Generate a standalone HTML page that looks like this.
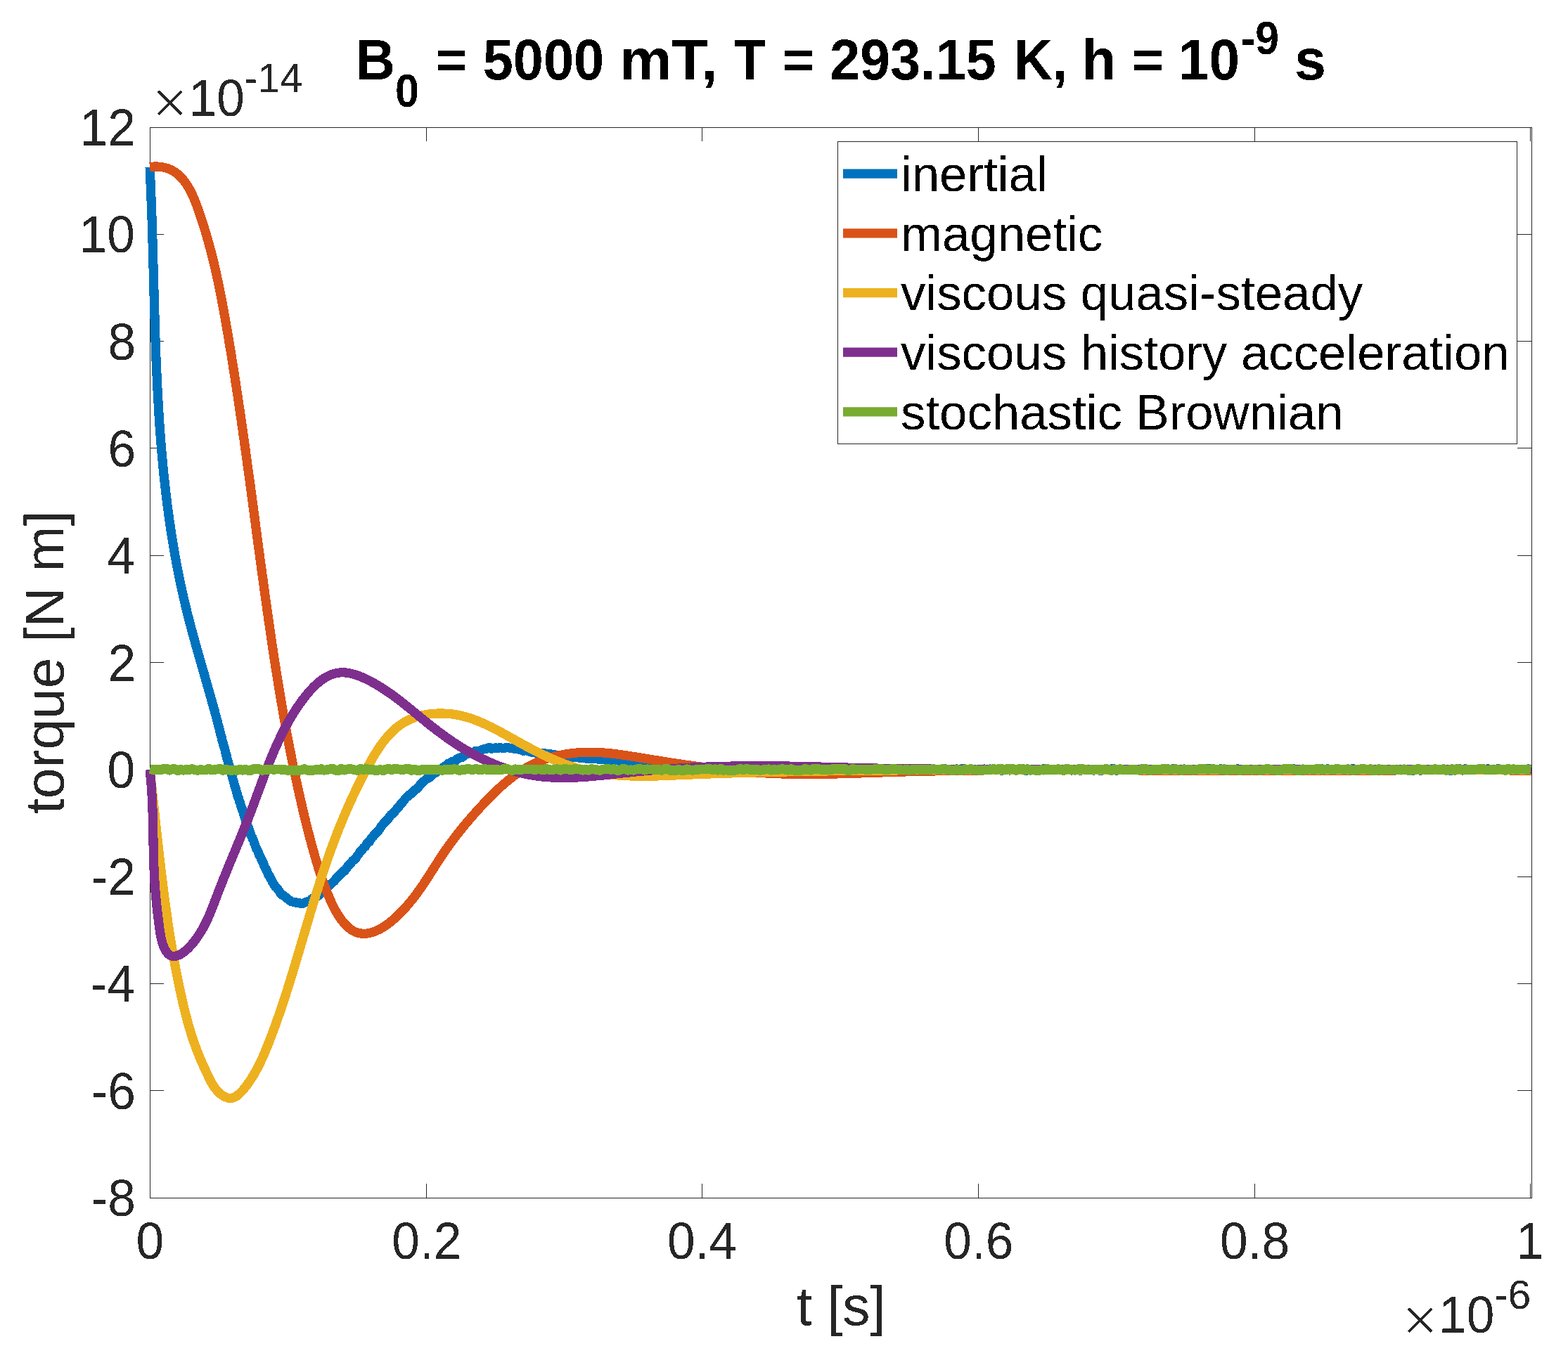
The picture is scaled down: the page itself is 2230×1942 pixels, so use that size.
<!DOCTYPE html><html><head><meta charset="utf-8"><title>torque plot</title><style>html,body{margin:0;padding:0;background:#fff;overflow:hidden}svg{display:block}text{font-family:"Liberation Sans",Arial,Helvetica,sans-serif}</style></head><body>
<svg width="2230" height="1942" viewBox="0 0 2230 1942">
<rect width="2230" height="1942" fill="#fff"/>
<defs><filter id="crisp" filterUnits="userSpaceOnUse" x="0" y="0" width="2230" height="1942" color-interpolation-filters="sRGB"><feComponentTransfer><feFuncA type="discrete" tableValues="0 1"/></feComponentTransfer></filter></defs>
<g stroke="#262626" stroke-width="1" fill="none" shape-rendering="crispEdges">
<path d="M213.5 181.5 H2178.5 V1704.5 H213.5 Z"/>
<path d="M213.5 1704 V1684 M213.5 181 V201"/>
<path d="M606.5 1704 V1684 M606.5 181 V201"/>
<path d="M998.5 1704 V1684 M998.5 181 V201"/>
<path d="M1391.5 1704 V1684 M1391.5 181 V201"/>
<path d="M1784.5 1704 V1684 M1784.5 181 V201"/>
<path d="M2176.5 1704 V1684 M2176.5 181 V201"/>
<path d="M213 181.5 H233 M2178 181.5 H2158"/>
<path d="M213 333.5 H233 M2178 333.5 H2158"/>
<path d="M213 485.5 H233 M2178 485.5 H2158"/>
<path d="M213 637.5 H233 M2178 637.5 H2158"/>
<path d="M213 790.5 H233 M2178 790.5 H2158"/>
<path d="M213 942.5 H233 M2178 942.5 H2158"/>
<path d="M213 1094.5 H233 M2178 1094.5 H2158"/>
<path d="M213 1247.5 H233 M2178 1247.5 H2158"/>
<path d="M213 1399.5 H233 M2178 1399.5 H2158"/>
<path d="M213 1551.5 H233 M2178 1551.5 H2158"/>
<path d="M213 1704.5 H233 M2178 1704.5 H2158"/>
</g>
<path d="M213.0 237.5 L213.2 240.5 L213.3 243.5 L213.5 246.5 L213.6 249.5 L213.7 252.5 L213.9 255.5 L214.0 258.4 L214.1 261.4 L214.3 264.4 L214.4 267.4 L214.5 270.4 L214.6 273.4 L214.8 276.4 L214.9 279.4 L215.0 282.4 L215.1 285.4 L215.2 288.4 L215.3 291.4 L215.4 294.4 L215.5 297.4 L215.6 300.4 L215.8 303.4 L215.9 306.4 L216.0 309.4 L216.1 312.4 L216.2 315.4 L216.3 318.4 L216.3 321.4 L216.4 324.4 L216.5 327.4 L216.6 330.4 L216.7 333.4 L216.8 336.4 L216.9 339.4 L217.0 342.4 L217.1 345.4 L217.2 348.4 L217.2 351.4 L217.3 354.4 L217.4 357.4 L217.5 360.4 L217.6 363.4 L217.7 366.4 L217.7 369.4 L217.8 372.4 L217.9 375.4 L218.0 378.4 L218.1 381.4 L218.1 384.4 L218.2 387.4 L218.3 390.4 L218.4 393.4 L218.5 396.5 L218.6 399.5 L218.6 402.5 L218.7 405.5 L218.8 408.5 L218.9 411.5 L219.0 414.5 L219.0 417.5 L219.1 420.5 L219.2 423.5 L219.3 426.5 L219.4 429.5 L219.5 432.5 L219.5 435.5 L219.6 438.5 L219.7 441.5 L219.8 444.5 L219.9 447.5 L220.0 450.5 L220.1 453.6 L220.2 456.6 L220.2 459.6 L220.3 462.6 L220.4 465.6 L220.5 468.6 L220.6 471.6 L220.7 474.6 L220.8 477.6 L220.9 480.6 L221.0 483.6 L221.1 486.6 L221.2 489.6 L221.3 492.6 L221.5 495.6 L221.6 498.6 L221.7 501.6 L221.8 504.6 L221.9 507.6 L222.0 510.6 L222.1 513.6 L222.3 516.6 L222.4 519.6 L222.5 522.6 L222.7 525.7 L222.8 528.7 L222.9 531.7 L223.1 534.7 L223.2 537.7 L223.3 540.7 L223.5 543.7 L223.6 546.7 L223.8 549.7 L223.9 552.7 L224.1 555.7 L224.2 558.7 L224.4 561.7 L224.5 564.7 L224.7 567.7 L224.9 570.7 L225.1 573.7 L225.2 576.7 L225.4 579.7 L225.6 582.7 L225.8 585.7 L226.0 588.7 L226.1 591.6 L226.3 594.6 L226.5 597.6 L226.7 600.6 L226.9 603.6 L227.1 606.6 L227.4 609.6 L227.6 612.6 L227.8 615.6 L228.0 618.6 L228.2 621.6 L228.5 624.6 L228.7 627.6 L228.9 630.6 L229.2 633.6 L229.4 636.6 L229.7 639.5 L229.9 642.5 L230.2 645.5 L230.5 648.5 L230.7 651.5 L231.0 654.5 L231.3 657.5 L231.6 660.5 L231.8 663.5 L232.1 666.4 L232.4 669.4 L232.7 672.4 L233.0 675.4 L233.3 678.4 L233.6 681.4 L234.0 684.4 L234.3 687.3 L234.6 690.3 L235.0 693.3 L235.3 696.3 L235.6 699.3 L236.0 702.2 L236.3 705.2 L236.7 708.2 L237.1 711.2 L237.4 714.2 L237.8 717.1 L238.2 720.1 L238.6 723.1 L239.0 726.1 L239.4 729.0 L239.8 732.0 L240.2 735.0 L240.6 738.0 L241.0 740.9 L241.4 743.9 L241.9 746.9 L242.3 749.8 L242.8 752.8 L243.2 755.8 L243.7 758.7 L244.1 761.7 L244.6 764.7 L245.1 767.6 L245.6 770.6 L246.1 773.6 L246.5 776.5 L247.1 779.5 L247.6 782.4 L248.1 785.4 L248.6 788.4 L249.1 791.3 L249.7 794.3 L250.2 797.2 L250.7 800.2 L251.3 803.1 L251.9 806.1 L252.4 809.0 L253.0 812.0 L253.6 814.9 L254.2 817.9 L254.8 820.8 L255.4 823.8 L256.0 826.7 L256.6 829.7 L257.2 832.6 L257.9 835.5 L258.5 838.5 L259.1 841.4 L259.8 844.3 L260.5 847.3 L261.1 850.2 L261.8 853.1 L262.5 856.1 L263.2 859.0 L263.9 861.9 L264.6 864.8 L265.3 867.8 L266.0 870.7 L266.7 873.6 L267.5 876.5 L268.2 879.4 L269.0 882.3 L269.7 885.3 L270.5 888.2 L271.3 891.1 L272.0 894.0 L272.8 896.9 L273.6 899.8 L274.4 902.7 L275.2 905.6 L276.0 908.5 L276.8 911.4 L277.6 914.3 L278.4 917.2 L279.2 920.1 L280.0 923.0 L280.8 925.9 L281.7 928.8 L282.5 931.7 L283.3 934.6 L284.1 937.5 L285.0 940.4 L285.8 943.3 L286.6 946.2 L287.5 949.1 L288.3 951.9 L289.1 954.8 L290.0 957.7 L290.8 960.6 L291.6 963.5 L292.4 966.4 L293.3 969.3 L294.1 972.2 L294.9 975.1 L295.7 978.0 L296.6 980.8 L297.4 983.7 L298.2 986.6 L299.0 989.5 L299.8 992.4 L300.6 994.9 L301.4 997.5 L302.2 1001.4 L303.0 1003.1 L303.8 1006.9 L304.6 1009.5 L305.4 1011.8 L306.1 1015.5 L306.9 1017.5 L307.7 1021.2 L308.5 1023.3 L309.2 1026.3 L310.0 1029.8 L310.8 1033.5 L311.5 1035.0 L312.3 1038.1 L313.1 1041.8 L313.8 1045.3 L314.6 1047.5 L315.4 1050.0 L316.1 1054.1 L316.9 1055.1 L317.6 1059.6 L318.4 1061.4 L319.2 1064.0 L319.9 1066.8 L320.7 1070.1 L321.5 1074.0 L322.3 1075.6 L323.0 1079.3 L323.8 1082.3 L324.6 1084.6 L325.4 1087.9 L326.2 1089.8 L327.0 1092.7 L327.8 1095.8 L328.6 1099.7 L329.4 1102.0 L330.2 1104.7 L331.0 1108.1 L331.9 1110.7 L332.7 1113.3 L333.5 1117.2 L334.4 1119.9 L335.2 1121.8 L336.1 1125.4 L336.9 1128.1 L337.8 1131.7 L338.7 1134.3 L339.6 1136.3 L340.5 1140.5 L341.4 1141.7 L342.3 1145.1 L343.2 1148.7 L344.2 1150.3 L345.1 1153.9 L346.1 1155.8 L347.0 1159.9 L348.0 1163.0 L349.0 1165.4 L350.0 1168.9 L351.0 1170.6 L352.0 1174.2 L353.0 1176.9 L354.1 1179.7 L355.1 1182.3 L356.2 1185.9 L357.3 1189.0 L358.4 1190.9 L359.5 1194.1 L360.6 1195.7 L361.7 1199.8 L362.9 1202.6 L364.0 1206.1 L365.2 1208.6 L366.4 1210.3 L367.6 1213.3 L368.8 1216.7 L370.1 1218.3 L371.3 1221.9 L372.6 1224.2 L373.9 1226.9 L375.2 1229.6 L376.5 1233.8 L377.9 1235.3 L379.2 1238.4 L380.6 1241.5 L382.0 1245.2 L383.5 1246.4 L384.9 1249.8 L386.5 1252.7 L388.1 1256.0 L389.7 1258.5 L391.4 1261.2 L393.1 1262.5 L395.0 1265.2 L396.9 1267.5 L398.9 1270.8 L400.9 1273.2 L403.1 1273.7 L405.3 1275.7 L407.6 1277.7 L410.0 1279.4 L412.4 1281.4 L414.9 1282.9 L417.5 1283.2 L420.0 1283.5 L422.6 1284.8 L425.2 1284.9 L427.9 1285.1 L430.6 1285.5 L433.2 1284.3 L435.9 1283.1 L438.6 1282.2 L441.3 1281.1 L443.9 1278.4 L446.6 1278.5 L449.2 1276.5 L451.8 1274.9 L454.4 1272.8 L456.9 1270.0 L459.4 1267.9 L461.9 1265.3 L464.3 1264.3 L466.7 1261.0 L469.0 1258.9 L471.3 1257.1 L473.5 1254.9 L475.7 1253.1 L477.8 1250.4 L480.0 1248.1 L482.1 1246.2 L484.2 1244.0 L486.2 1242.3 L488.2 1239.4 L490.2 1238.9 L492.2 1236.2 L494.2 1233.0 L496.2 1231.0 L498.1 1228.9 L500.1 1226.7 L502.1 1224.0 L504.0 1223.1 L505.9 1221.1 L507.9 1217.8 L509.8 1215.5 L511.7 1212.4 L513.7 1210.1 L515.6 1208.3 L517.5 1205.8 L519.4 1204.6 L521.3 1200.9 L523.2 1198.3 L525.2 1197.8 L527.1 1194.6 L529.0 1191.5 L530.9 1189.9 L532.8 1186.6 L534.8 1185.2 L536.7 1183.8 L538.6 1181.2 L540.5 1178.5 L542.5 1175.3 L544.4 1173.2 L546.3 1170.5 L548.3 1169.4 L550.2 1166.6 L552.2 1164.8 L554.2 1161.6 L556.1 1159.1 L558.1 1158.0 L560.1 1156.1 L562.1 1153.5 L564.1 1151.2 L566.1 1149.0 L568.1 1146.6 L570.2 1143.4 L572.2 1141.7 L574.3 1139.2 L576.3 1136.4 L578.4 1134.2 L580.5 1132.6 L582.6 1130.4 L584.7 1129.2 L586.8 1127.6 L589.0 1124.6 L591.1 1123.5 L593.3 1121.6 L595.5 1119.5 L597.7 1116.3 L599.9 1114.1 L602.1 1112.1 L604.4 1110.2 L606.6 1108.3 L608.9 1107.2 L611.2 1106.0 L613.5 1104.0 L615.9 1101.5 L618.2 1100.1 L620.6 1098.6 L623.0 1095.5 L625.4 1095.0 L627.9 1093.8 L630.3 1091.9 L632.8 1090.3 L635.3 1088.2 L637.9 1086.1 L640.4 1085.8 L643.0 1083.4 L645.6 1083.0 L648.2 1081.9 L650.9 1079.4 L653.6 1078.1 L656.3 1077.9 L659.0 1076.2 L661.7 1073.9 L664.5 1072.7 L667.3 1071.6 L670.2 1072.1 L673.0 1070.9 L675.9 1068.6 L678.8 1069.1 L681.7 1068.6 L684.6 1067.2 L687.5 1065.9 L690.4 1065.7 L693.4 1064.3 L696.4 1063.6 L699.3 1065.2 L702.3 1064.2 L705.3 1063.8 L708.3 1064.5 L711.3 1063.5 L714.3 1064.4 L717.3 1064.5 L720.3 1063.5 L723.4 1063.9 L726.4 1064.3 L729.4 1064.6 L732.4 1065.7 L735.4 1065.6 L738.4 1066.4 L741.4 1066.3 L744.4 1068.3 L747.4 1067.7 L750.4 1068.4 L753.4 1069.2 L756.3 1070.4 L759.3 1069.9 L762.3 1071.4 L765.3 1071.0 L768.2 1071.6 L771.2 1072.1 L774.2 1071.5 L777.2 1072.8 L780.1 1072.7 L783.1 1072.8 L786.1 1074.8 L789.0 1073.9 L792.0 1074.9 L795.0 1075.7 L798.0 1075.7 L801.0 1075.6 L804.0 1076.3 L806.9 1076.6 L809.9 1077.4 L812.9 1076.3 L815.9 1077.4 L818.9 1077.1 L821.9 1077.4 L824.9 1078.6 L827.9 1078.3 L830.8 1078.6 L833.8 1079.2 L836.8 1079.7 L839.8 1079.0 L842.8 1079.5 L845.8 1079.5 L848.8 1079.7 L851.8 1080.2 L854.8 1079.9 L857.8 1080.3 L860.8 1080.4 L863.8 1081.5 L866.8 1081.2 L869.7 1081.8 L872.7 1082.1 L875.7 1080.9 L878.7 1081.8 L881.7 1082.8 L884.7 1082.8 L887.7 1081.6 L890.7 1081.9 L893.7 1082.8 L896.7 1082.3 L899.7 1082.9 L902.6 1082.9 L905.6 1084.4 L908.6 1084.9 L911.6 1085.5 L914.6 1084.3 L917.6 1085.8 L920.6 1086.0 L923.5 1085.3 L926.5 1087.1 L929.5 1087.6 L932.5 1086.5 L935.5 1088.3 L938.5 1087.5 L941.4 1088.1 L944.4 1089.4 L947.4 1089.5 L950.4 1088.5 L953.4 1089.4 L956.4 1089.9 L959.3 1089.9 L962.3 1090.0 L965.3 1090.6 L968.3 1091.7 L971.3 1090.6 L974.3 1092.0 L977.2 1092.1 L980.2 1091.6 L983.2 1092.6 L986.2 1093.5 L989.2 1093.5 L992.2 1092.9 L995.1 1095.1 L998.1 1095.0 L1001.1 1095.6 L1004.1 1094.1 L1007.1 1094.7 L1010.1 1094.5 L1013.1 1096.2 L1016.0 1095.4 L1019.0 1095.3 L1022.0 1096.1 L1025.0 1097.2 L1028.0 1097.2 L1031.0 1096.3 L1034.0 1096.2 L1037.0 1097.8 L1040.0 1097.2 L1043.0 1097.6 L1046.0 1096.4 L1048.9 1096.4 L1051.9 1097.7 L1054.9 1097.2 L1057.9 1096.5 L1060.9 1098.2 L1063.9 1097.6 L1066.9 1097.8 L1069.9 1096.3 L1072.9 1097.7 L1075.9 1096.0 L1078.9 1097.5 L1081.9 1096.5 L1085.0 1096.0 L1088.0 1096.2 L1091.0 1096.7 L1094.0 1095.1 L1097.0 1094.6 L1100.0 1095.0 L1104.0 1094.9 L1108.0 1095.2 L1112.0 1096.1 L1116.0 1094.9 L1120.0 1095.0 L1124.0 1095.2 L1128.0 1094.2 L1132.0 1095.0 L1136.0 1095.3 L1140.0 1095.8 L1144.0 1093.9 L1148.0 1094.5 L1152.0 1093.9 L1156.0 1095.8 L1160.0 1095.5 L1164.0 1093.8 L1168.0 1096.3 L1172.0 1096.2 L1176.0 1095.4 L1180.0 1095.3 L1184.0 1094.1 L1188.0 1093.7 L1192.0 1095.1 L1196.0 1093.9 L1200.0 1094.2 L1204.0 1094.3 L1208.0 1093.8 L1212.0 1094.9 L1216.0 1094.8 L1220.0 1095.9 L1224.0 1095.0 L1228.0 1095.4 L1232.0 1095.0 L1236.0 1095.4 L1240.0 1094.9 L1244.0 1094.4 L1248.0 1096.3 L1252.0 1096.3 L1256.0 1095.9 L1260.0 1095.5 L1264.0 1094.5 L1268.0 1094.3 L1272.0 1094.5 L1276.0 1093.9 L1280.0 1095.7 L1284.0 1094.7 L1288.0 1095.9 L1292.0 1094.7 L1296.0 1096.2 L1300.0 1095.9 L1304.0 1093.7 L1308.0 1094.2 L1312.0 1096.1 L1316.0 1094.9 L1320.0 1096.2 L1324.0 1094.7 L1328.0 1093.9 L1332.0 1095.3 L1336.0 1095.7 L1340.0 1094.4 L1344.0 1093.9 L1348.0 1094.6 L1352.0 1096.2 L1356.0 1095.7 L1360.0 1094.0 L1364.0 1094.3 L1368.0 1094.0 L1372.0 1093.9 L1376.0 1095.8 L1380.0 1094.2 L1384.0 1095.2 L1388.0 1094.9 L1392.0 1094.2 L1396.0 1095.6 L1400.0 1094.0 L1404.0 1095.4 L1408.0 1094.0 L1412.0 1094.8 L1416.0 1094.3 L1420.0 1094.4 L1424.0 1096.2 L1428.0 1095.8 L1432.0 1094.5 L1436.0 1096.0 L1440.0 1094.2 L1444.0 1094.7 L1448.0 1095.9 L1452.0 1095.4 L1456.0 1094.0 L1460.0 1096.3 L1464.0 1094.3 L1468.0 1094.4 L1472.0 1095.7 L1476.0 1094.6 L1480.0 1094.5 L1484.0 1093.9 L1488.0 1093.9 L1492.0 1095.2 L1496.0 1094.3 L1500.0 1095.3 L1504.0 1094.7 L1508.0 1094.9 L1512.0 1096.2 L1516.0 1095.0 L1520.0 1095.2 L1524.0 1096.0 L1528.0 1094.2 L1532.0 1094.1 L1536.0 1096.1 L1540.0 1095.8 L1544.0 1094.3 L1548.0 1094.2 L1552.0 1095.6 L1556.0 1096.1 L1560.0 1094.2 L1564.0 1096.2 L1568.0 1096.0 L1572.0 1095.3 L1576.0 1094.8 L1580.0 1094.0 L1584.0 1093.8 L1588.0 1096.2 L1592.0 1094.3 L1596.0 1095.5 L1600.0 1094.4 L1604.0 1095.8 L1608.0 1095.3 L1612.0 1094.5 L1616.0 1094.2 L1620.0 1095.6 L1624.0 1093.9 L1628.0 1094.3 L1632.0 1095.2 L1636.0 1095.9 L1640.0 1095.3 L1644.0 1094.4 L1648.0 1096.1 L1652.0 1094.2 L1656.0 1093.7 L1660.0 1094.4 L1664.0 1094.9 L1668.0 1093.9 L1672.0 1094.2 L1676.0 1094.7 L1680.0 1095.2 L1684.0 1094.0 L1688.0 1094.6 L1692.0 1096.0 L1696.0 1096.2 L1700.0 1095.4 L1704.0 1095.5 L1708.0 1095.2 L1712.0 1094.1 L1716.0 1093.8 L1720.0 1093.7 L1724.0 1096.1 L1728.0 1095.5 L1732.0 1096.2 L1736.0 1093.8 L1740.0 1095.4 L1744.0 1095.0 L1748.0 1095.6 L1752.0 1094.5 L1756.0 1096.3 L1760.0 1093.9 L1764.0 1095.1 L1768.0 1095.6 L1772.0 1096.0 L1776.0 1095.6 L1780.0 1095.5 L1784.0 1095.8 L1788.0 1096.1 L1792.0 1094.6 L1796.0 1095.5 L1800.0 1096.0 L1804.0 1096.0 L1808.0 1094.8 L1812.0 1095.8 L1816.0 1095.9 L1820.0 1095.2 L1824.0 1095.3 L1828.0 1094.7 L1832.0 1095.2 L1836.0 1095.3 L1840.0 1093.9 L1844.0 1095.4 L1848.0 1096.3 L1852.0 1096.0 L1856.0 1095.6 L1860.0 1094.7 L1864.0 1095.6 L1868.0 1095.2 L1872.0 1094.8 L1876.0 1095.9 L1880.0 1093.9 L1884.0 1095.7 L1888.0 1093.8 L1892.0 1095.3 L1896.0 1095.0 L1900.0 1094.3 L1904.0 1095.5 L1908.0 1095.0 L1912.0 1095.3 L1916.0 1096.1 L1920.0 1094.4 L1924.0 1093.7 L1928.0 1094.5 L1932.0 1095.5 L1936.0 1094.2 L1940.0 1094.1 L1944.0 1096.1 L1948.0 1095.4 L1952.0 1094.8 L1956.0 1096.0 L1960.0 1094.6 L1964.0 1095.4 L1968.0 1094.2 L1972.0 1094.8 L1976.0 1095.8 L1980.0 1096.1 L1984.0 1096.0 L1988.0 1094.7 L1992.0 1095.2 L1996.0 1094.5 L2000.0 1094.1 L2004.0 1095.0 L2008.0 1095.9 L2012.0 1095.9 L2016.0 1095.5 L2020.0 1096.2 L2024.0 1094.4 L2028.0 1094.1 L2032.0 1094.9 L2036.0 1094.4 L2040.0 1094.3 L2044.0 1094.8 L2048.0 1095.3 L2052.0 1095.0 L2056.0 1094.5 L2060.0 1095.9 L2064.0 1096.3 L2068.0 1094.9 L2072.0 1093.9 L2076.0 1093.8 L2080.0 1096.0 L2084.0 1093.8 L2088.0 1095.5 L2092.0 1095.2 L2096.0 1094.5 L2100.0 1095.8 L2104.0 1093.7 L2108.0 1094.1 L2112.0 1094.9 L2116.0 1093.8 L2120.0 1095.9 L2124.0 1094.3 L2128.0 1094.1 L2132.0 1093.8 L2136.0 1095.3 L2140.0 1094.9 L2144.0 1095.3 L2148.0 1095.4 L2152.0 1095.8 L2156.0 1096.2 L2160.0 1095.5 L2164.0 1094.2 L2168.0 1094.9 L2172.0 1094.2 L2176.0 1093.7" fill="none" stroke="#0072BD" stroke-width="13.2" stroke-linejoin="round" shape-rendering="crispEdges"/>
<path d="M213.0 237.5 L214.8 237.3 L216.6 237.2 L218.3 237.1 L220.0 237.0 L221.7 237.0 L223.4 237.0 L225.0 237.1 L226.6 237.2 L228.1 237.4 L229.7 237.6 L231.2 237.8 L232.6 238.1 L234.1 238.5 L235.5 238.8 L236.9 239.2 L238.2 239.7 L239.6 240.1 L240.9 240.7 L242.1 241.2 L243.4 241.8 L244.6 242.4 L245.8 243.1 L247.0 243.7 L248.1 244.5 L249.3 245.2 L250.4 246.0 L251.5 246.8 L252.5 247.6 L253.6 248.5 L254.6 249.4 L255.6 250.3 L256.5 251.3 L257.5 252.3 L258.4 253.3 L259.3 254.3 L260.2 255.3 L261.1 256.4 L262.0 257.5 L262.8 258.6 L263.7 259.8 L264.5 260.9 L265.3 262.1 L266.0 263.3 L266.8 264.5 L267.5 265.7 L268.3 267.0 L269.0 268.3 L269.7 269.5 L270.4 270.8 L271.1 272.2 L271.7 273.5 L272.4 274.8 L273.0 276.2 L273.7 277.5 L274.3 278.9 L274.9 280.3 L275.5 281.7 L276.1 283.1 L276.7 284.5 L277.2 285.9 L277.8 287.3 L278.4 288.8 L278.9 290.2 L279.5 291.6 L280.0 293.1 L280.5 294.5 L281.1 296.0 L281.6 297.4 L282.1 298.9 L282.6 300.3 L283.1 301.8 L283.6 303.3 L284.1 304.7 L284.6 306.2 L285.1 307.6 L285.6 309.1 L286.1 310.5 L286.6 312.0 L287.1 313.4 L287.5 314.9 L288.0 316.4 L288.5 317.8 L288.9 319.3 L289.4 320.7 L289.9 322.2 L290.3 323.6 L290.8 325.1 L291.2 326.6 L291.7 328.0 L292.1 329.5 L292.5 330.9 L293.0 332.4 L293.4 333.8 L293.8 335.3 L294.3 336.8 L294.7 338.2 L295.1 339.7 L295.5 341.1 L295.9 342.6 L296.3 344.1 L296.7 345.5 L297.1 347.0 L297.5 348.4 L297.9 349.9 L298.3 351.4 L298.7 352.8 L299.1 354.3 L299.5 355.8 L299.9 357.2 L300.3 358.7 L300.6 360.1 L301.0 361.6 L301.4 363.1 L301.7 364.5 L302.1 366.0 L302.5 367.5 L302.8 368.9 L303.2 370.4 L303.5 371.9 L303.9 373.3 L304.3 374.8 L304.6 376.2 L304.9 377.7 L305.3 379.2 L305.6 380.6 L306.0 382.1 L306.3 383.6 L306.6 385.0 L307.0 386.5 L307.3 388.0 L307.6 389.4 L308.0 390.9 L308.3 392.4 L308.6 393.8 L308.9 395.3 L309.2 396.8 L309.6 398.2 L309.9 399.7 L310.2 401.2 L310.5 402.6 L310.8 404.1 L311.1 405.6 L311.4 407.0 L311.7 408.5 L312.0 410.0 L312.3 411.5 L312.6 412.9 L312.9 414.4 L313.2 415.9 L313.5 417.3 L313.8 418.8 L314.1 420.3 L314.3 421.7 L314.6 423.2 L314.9 424.7 L315.2 426.2 L315.5 427.6 L315.8 429.1 L316.0 430.6 L316.3 432.0 L316.6 433.5 L316.9 435.0 L317.1 436.5 L317.4 437.9 L317.7 439.4 L318.0 440.9 L318.2 442.3 L318.5 443.8 L318.8 445.3 L319.0 446.8 L319.3 448.2 L319.6 449.7 L319.8 451.2 L320.1 452.7 L320.3 454.1 L320.6 455.6 L320.9 457.1 L321.1 458.6 L321.4 460.0 L321.6 461.5 L321.9 463.0 L322.1 464.5 L322.4 465.9 L322.7 467.4 L322.9 468.9 L323.2 470.4 L323.4 471.8 L323.7 473.3 L323.9 474.8 L324.2 476.3 L324.4 477.7 L324.7 479.2 L324.9 480.7 L325.2 482.2 L325.4 483.6 L325.7 485.1 L325.9 486.6 L326.1 488.1 L326.4 489.6 L326.6 491.0 L326.9 492.5 L327.1 494.0 L327.4 495.5 L327.6 496.9 L327.9 498.4 L328.1 499.9 L328.3 501.4 L328.6 502.9 L328.8 504.3 L329.1 505.8 L329.3 507.3 L329.5 508.8 L329.8 510.3 L330.0 511.7 L330.3 513.2 L330.5 514.7 L330.7 516.2 L331.0 517.6 L331.2 519.1 L331.4 520.6 L331.7 522.1 L331.9 523.6 L332.1 525.1 L332.4 526.5 L332.6 528.0 L332.8 529.5 L333.1 531.0 L333.3 532.5 L333.5 533.9 L333.8 535.4 L334.0 536.9 L334.2 538.4 L334.4 539.9 L334.7 541.3 L334.9 542.8 L335.1 544.3 L335.4 545.8 L335.6 547.3 L335.8 548.8 L336.0 550.2 L336.3 551.7 L336.5 553.2 L336.7 554.7 L336.9 556.2 L337.2 557.6 L337.4 559.1 L337.6 560.6 L337.8 562.1 L338.1 563.6 L338.3 565.1 L338.5 566.5 L338.7 568.0 L338.9 569.5 L339.2 571.0 L339.4 572.5 L339.6 574.0 L339.8 575.4 L340.0 576.9 L340.3 578.4 L340.5 579.9 L340.7 581.4 L340.9 582.9 L341.1 584.4 L341.3 585.8 L341.6 587.3 L341.8 588.8 L342.0 590.3 L342.2 591.8 L342.4 593.3 L342.6 594.7 L342.9 596.2 L343.1 597.7 L343.3 599.2 L343.5 600.7 L343.7 602.2 L343.9 603.7 L344.1 605.1 L344.3 606.6 L344.6 608.1 L344.8 609.6 L345.0 611.1 L345.2 612.6 L345.4 614.1 L345.6 615.5 L345.8 617.0 L346.0 618.5 L346.2 620.0 L346.5 621.5 L346.7 623.0 L346.9 624.5 L347.1 625.9 L347.3 627.4 L347.5 628.9 L347.7 630.4 L347.9 631.9 L348.1 633.4 L348.3 634.9 L348.5 636.3 L348.7 637.8 L349.0 639.3 L349.2 640.8 L349.4 642.3 L349.6 643.8 L349.8 645.3 L350.0 646.8 L350.2 648.2 L350.4 649.7 L350.6 651.2 L350.8 652.7 L351.0 654.2 L351.2 655.7 L351.4 657.2 L351.6 658.7 L351.8 660.1 L352.0 661.6 L352.2 663.1 L352.4 664.6 L352.6 666.1 L352.8 667.6 L353.0 669.1 L353.3 670.6 L353.5 672.0 L353.7 673.5 L353.9 675.0 L354.1 676.5 L354.3 678.0 L354.5 679.5 L354.7 681.0 L354.9 682.5 L355.1 683.9 L355.3 685.4 L355.5 686.9 L355.7 688.4 L355.9 689.9 L356.1 691.4 L356.3 692.9 L356.5 694.4 L356.7 695.9 L356.9 697.3 L357.1 698.8 L357.3 700.3 L357.5 701.8 L357.7 703.3 L357.9 704.8 L358.1 706.3 L358.3 707.8 L358.5 709.2 L358.7 710.7 L358.9 712.2 L359.1 713.7 L359.3 715.2 L359.5 716.7 L359.7 718.2 L359.9 719.7 L360.1 721.2 L360.3 722.6 L360.5 724.1 L360.7 725.6 L360.9 727.1 L361.1 728.6 L361.3 730.1 L361.5 731.6 L361.7 733.1 L361.9 734.6 L362.1 736.0 L362.3 737.5 L362.5 739.0 L362.7 740.5 L362.9 742.0 L363.1 743.5 L363.3 745.0 L363.5 746.5 L363.6 748.0 L363.8 749.4 L364.0 750.9 L364.2 752.4 L364.4 753.9 L364.6 755.4 L364.8 756.9 L365.0 758.4 L365.2 759.9 L365.4 761.3 L365.6 762.8 L365.8 764.3 L366.0 765.8 L366.2 767.3 L366.4 768.8 L366.6 770.3 L366.8 771.8 L367.0 773.3 L367.2 774.7 L367.4 776.2 L367.6 777.7 L367.8 779.2 L368.0 780.7 L368.2 782.2 L368.4 783.7 L368.6 785.2 L368.8 786.7 L369.0 788.1 L369.2 789.6 L369.4 791.1 L369.6 792.6 L369.8 794.1 L370.0 795.6 L370.2 797.1 L370.4 798.6 L370.6 800.0 L370.8 801.5 L371.0 803.0 L371.2 804.5 L371.4 806.0 L371.6 807.5 L371.8 809.0 L372.0 810.5 L372.2 811.9 L372.4 813.4 L372.6 814.9 L372.8 816.4 L373.0 817.9 L373.2 819.4 L373.5 820.9 L373.7 822.4 L373.9 823.8 L374.1 825.3 L374.3 826.8 L374.5 828.3 L374.7 829.8 L374.9 831.3 L375.1 832.8 L375.3 834.3 L375.5 835.7 L375.7 837.2 L375.9 838.7 L376.1 840.2 L376.3 841.7 L376.5 843.2 L376.7 844.7 L376.9 846.1 L377.1 847.6 L377.3 849.1 L377.5 850.6 L377.7 852.1 L378.0 853.6 L378.2 855.1 L378.4 856.5 L378.6 858.0 L378.8 859.5 L379.0 861.0 L379.2 862.5 L379.4 864.0 L379.6 865.5 L379.8 866.9 L380.0 868.4 L380.2 869.9 L380.5 871.4 L380.7 872.9 L380.9 874.4 L381.1 875.9 L381.3 877.3 L381.5 878.8 L381.7 880.3 L381.9 881.8 L382.1 883.3 L382.4 884.8 L382.6 886.3 L382.8 887.7 L383.0 889.2 L383.2 890.7 L383.4 892.2 L383.6 893.7 L383.9 895.2 L384.1 896.6 L384.3 898.1 L384.5 899.6 L384.7 901.1 L384.9 902.6 L385.2 904.1 L385.4 905.6 L385.6 907.0 L385.8 908.5 L386.0 910.0 L386.3 911.5 L386.5 913.0 L386.7 914.5 L386.9 915.9 L387.1 917.4 L387.4 918.9 L387.6 920.4 L387.8 921.9 L388.0 923.3 L388.2 924.8 L388.5 926.3 L388.7 927.8 L388.9 929.3 L389.1 930.8 L389.4 932.2 L389.6 933.7 L389.8 935.2 L390.0 936.7 L390.3 938.2 L390.5 939.7 L390.7 941.1 L391.0 942.6 L391.2 944.1 L391.4 945.6 L391.6 947.1 L391.9 948.5 L392.1 950.0 L392.3 951.5 L392.6 953.0 L392.8 954.5 L393.0 955.9 L393.3 957.4 L393.5 958.9 L393.7 960.4 L394.0 961.9 L394.2 963.3 L394.5 964.8 L394.7 966.3 L394.9 967.8 L395.2 969.3 L395.4 970.8 L395.6 972.2 L395.9 973.7 L396.1 975.2 L396.4 976.7 L396.6 978.1 L396.9 979.6 L397.1 981.1 L397.3 982.6 L397.6 984.1 L397.8 985.5 L398.1 987.0 L398.3 988.5 L398.6 990.0 L398.8 991.5 L399.1 992.9 L399.3 994.4 L399.6 995.9 L399.8 997.4 L400.1 998.8 L400.3 1000.3 L400.6 1001.8 L400.8 1003.3 L401.1 1004.8 L401.3 1006.2 L401.6 1007.7 L401.8 1009.2 L402.1 1010.7 L402.4 1012.1 L402.6 1013.6 L402.9 1015.1 L403.1 1016.6 L403.4 1018.0 L403.7 1019.5 L403.9 1021.0 L404.2 1022.5 L404.4 1024.0 L404.7 1025.4 L405.0 1026.9 L405.2 1028.4 L405.5 1029.9 L405.8 1031.3 L406.0 1032.8 L406.3 1034.3 L406.6 1035.8 L406.8 1037.2 L407.1 1038.7 L407.4 1040.2 L407.7 1041.7 L407.9 1043.1 L408.2 1044.6 L408.5 1046.1 L408.8 1047.6 L409.0 1049.0 L409.3 1050.5 L409.6 1052.0 L409.9 1053.4 L410.2 1054.9 L410.4 1056.4 L410.7 1057.9 L411.0 1059.3 L411.3 1060.8 L411.6 1062.3 L411.8 1063.8 L412.1 1065.2 L412.4 1066.7 L412.7 1068.2 L413.0 1069.6 L413.3 1071.1 L413.6 1072.6 L413.9 1074.1 L414.2 1075.5 L414.5 1077.0 L414.7 1078.5 L415.0 1079.9 L415.3 1081.4 L415.6 1082.9 L415.9 1084.4 L416.2 1085.8 L416.5 1087.3 L416.8 1088.8 L417.1 1090.2 L417.4 1091.7 L417.7 1093.2 L418.0 1094.6 L418.3 1096.1 L418.7 1097.6 L419.0 1099.1 L419.3 1100.5 L419.6 1102.0 L419.9 1103.5 L420.2 1104.9 L420.5 1106.4 L420.8 1107.9 L421.1 1109.3 L421.5 1110.8 L421.8 1112.3 L422.1 1113.7 L422.4 1115.2 L422.7 1116.7 L423.0 1118.1 L423.4 1119.6 L423.7 1121.1 L424.0 1122.5 L424.3 1124.0 L424.7 1125.5 L425.0 1126.9 L425.3 1128.4 L425.6 1129.9 L426.0 1131.3 L426.3 1132.8 L426.6 1134.3 L427.0 1135.7 L427.3 1137.2 L427.6 1138.7 L428.0 1140.1 L428.3 1141.6 L428.6 1143.1 L429.0 1144.5 L429.3 1146.0 L429.7 1147.5 L430.0 1148.9 L430.4 1150.4 L430.7 1151.9 L431.0 1153.3 L431.4 1154.8 L431.7 1156.2 L432.1 1157.7 L432.4 1159.2 L432.8 1160.6 L433.1 1162.1 L433.5 1163.6 L433.9 1165.0 L434.2 1166.5 L434.6 1167.9 L434.9 1169.4 L435.3 1170.9 L435.6 1172.3 L436.0 1173.8 L436.4 1175.3 L436.7 1176.7 L437.1 1178.2 L437.5 1179.6 L437.8 1181.1 L438.2 1182.6 L438.6 1184.0 L439.0 1185.5 L439.3 1186.9 L439.7 1188.4 L440.1 1189.8 L440.5 1191.3 L440.8 1192.8 L441.2 1194.2 L441.6 1195.7 L442.0 1197.1 L442.4 1198.6 L442.8 1200.0 L443.2 1201.5 L443.6 1202.9 L444.0 1204.4 L444.4 1205.8 L444.8 1207.3 L445.2 1208.7 L445.6 1210.1 L446.0 1211.6 L446.4 1213.0 L446.8 1214.5 L447.2 1215.9 L447.6 1217.3 L448.0 1218.8 L448.4 1220.2 L448.9 1221.6 L449.3 1223.1 L449.7 1224.5 L450.1 1225.9 L450.6 1227.3 L451.0 1228.8 L451.4 1230.2 L451.9 1231.6 L452.3 1233.0 L452.7 1234.4 L453.2 1235.8 L453.6 1237.2 L454.1 1238.7 L454.5 1240.1 L455.0 1241.5 L455.4 1242.9 L455.9 1244.3 L456.4 1245.7 L456.8 1247.1 L457.3 1248.5 L457.8 1249.9 L458.3 1251.3 L458.8 1252.7 L459.3 1254.1 L459.8 1255.5 L460.3 1256.9 L460.8 1258.3 L461.3 1259.7 L461.8 1261.2 L462.4 1262.6 L462.9 1264.0 L463.5 1265.4 L464.0 1266.8 L464.6 1268.3 L465.2 1269.7 L465.8 1271.1 L466.4 1272.6 L467.0 1274.0 L467.6 1275.5 L468.2 1276.9 L468.8 1278.4 L469.5 1279.9 L470.1 1281.3 L470.8 1282.8 L471.5 1284.3 L472.2 1285.8 L472.9 1287.2 L473.6 1288.7 L474.3 1290.2 L475.1 1291.7 L475.8 1293.1 L476.6 1294.6 L477.4 1296.1 L478.2 1297.5 L479.1 1298.9 L479.9 1300.4 L480.8 1301.8 L481.7 1303.2 L482.7 1304.6 L483.6 1306.0 L484.6 1307.4 L485.6 1308.7 L486.6 1310.0 L487.6 1311.3 L488.7 1312.6 L489.8 1313.8 L490.8 1315.0 L491.9 1316.2 L493.0 1317.3 L494.2 1318.4 L495.3 1319.4 L496.5 1320.4 L497.6 1321.3 L498.8 1322.2 L500.0 1323.0 L501.2 1323.8 L502.4 1324.4 L503.6 1325.1 L504.8 1325.6 L506.1 1326.2 L507.3 1326.6 L508.5 1327.0 L509.8 1327.3 L511.0 1327.6 L512.3 1327.9 L513.6 1328.0 L514.8 1328.2 L516.1 1328.2 L517.4 1328.3 L518.7 1328.3 L520.0 1328.2 L521.3 1328.1 L522.5 1327.9 L523.8 1327.7 L525.1 1327.5 L526.4 1327.2 L527.7 1326.8 L529.0 1326.5 L530.4 1326.1 L531.7 1325.6 L533.0 1325.1 L534.3 1324.6 L535.6 1324.0 L536.9 1323.4 L538.2 1322.8 L539.5 1322.2 L540.8 1321.5 L542.1 1320.7 L543.4 1320.0 L544.6 1319.2 L545.9 1318.4 L547.2 1317.6 L548.5 1316.7 L549.8 1315.8 L551.0 1314.9 L552.3 1314.0 L553.5 1313.0 L554.8 1312.1 L556.0 1311.1 L557.3 1310.0 L558.5 1309.0 L559.7 1308.0 L560.9 1306.9 L562.1 1305.8 L563.3 1304.7 L564.5 1303.6 L565.7 1302.5 L566.8 1301.4 L568.0 1300.3 L569.2 1299.1 L570.3 1298.0 L571.4 1296.8 L572.5 1295.7 L573.6 1294.5 L574.7 1293.3 L575.8 1292.1 L576.8 1291.0 L577.9 1289.8 L578.9 1288.6 L580.0 1287.4 L581.0 1286.2 L582.0 1285.0 L583.0 1283.8 L584.0 1282.6 L585.0 1281.4 L585.9 1280.2 L586.9 1279.0 L587.8 1277.8 L588.8 1276.6 L589.7 1275.4 L590.6 1274.2 L591.5 1272.9 L592.4 1271.7 L593.3 1270.5 L594.2 1269.3 L595.1 1268.0 L596.0 1266.8 L596.9 1265.6 L597.7 1264.3 L598.6 1263.1 L599.4 1261.9 L600.3 1260.6 L601.1 1259.4 L602.0 1258.2 L602.8 1256.9 L603.6 1255.7 L604.5 1254.4 L605.3 1253.2 L606.1 1251.9 L606.9 1250.7 L607.7 1249.5 L608.5 1248.2 L609.3 1247.0 L610.1 1245.7 L610.9 1244.5 L611.7 1243.2 L612.5 1242.0 L613.3 1240.7 L614.1 1239.5 L614.9 1238.2 L615.7 1237.0 L616.5 1235.8 L617.3 1234.5 L618.1 1233.3 L618.9 1232.0 L619.7 1230.8 L620.5 1229.5 L621.3 1228.3 L622.1 1227.1 L622.8 1225.8 L623.6 1224.6 L624.5 1223.3 L625.3 1222.1 L626.1 1220.9 L626.9 1219.6 L627.7 1218.4 L628.5 1217.2 L629.3 1216.0 L630.1 1214.7 L631.0 1213.5 L631.8 1212.3 L632.6 1211.1 L633.5 1209.9 L634.3 1208.6 L635.2 1207.4 L636.0 1206.2 L636.9 1205.0 L637.8 1203.8 L638.6 1202.6 L639.5 1201.4 L640.4 1200.2 L641.2 1199.0 L642.1 1197.8 L643.0 1196.6 L643.9 1195.4 L644.8 1194.2 L645.7 1193.0 L646.6 1191.8 L647.5 1190.6 L648.4 1189.5 L649.3 1188.3 L650.2 1187.1 L651.2 1185.9 L652.1 1184.8 L653.0 1183.6 L653.9 1182.4 L654.9 1181.2 L655.8 1180.1 L656.8 1178.9 L657.7 1177.7 L658.6 1176.6 L659.6 1175.4 L660.6 1174.3 L661.5 1173.1 L662.5 1172.0 L663.4 1170.8 L664.4 1169.6 L665.4 1168.5 L666.4 1167.4 L667.3 1166.2 L668.3 1165.1 L669.3 1163.9 L670.3 1162.8 L671.3 1161.7 L672.3 1160.5 L673.3 1159.4 L674.3 1158.3 L675.3 1157.1 L676.3 1156.0 L677.3 1154.9 L678.3 1153.8 L679.3 1152.6 L680.3 1151.5 L681.4 1150.4 L682.4 1149.3 L683.4 1148.2 L684.4 1147.1 L685.5 1146.0 L686.5 1144.9 L687.5 1143.8 L688.6 1142.7 L689.6 1141.6 L690.7 1140.5 L691.7 1139.4 L692.8 1138.3 L693.8 1137.2 L694.9 1136.1 L695.9 1135.0 L697.0 1133.9 L698.1 1132.9 L699.1 1131.8 L700.2 1130.7 L701.3 1129.6 L702.4 1128.6 L703.5 1127.5 L704.5 1126.5 L705.6 1125.4 L706.7 1124.4 L707.8 1123.4 L708.9 1122.3 L710.0 1121.3 L711.2 1120.3 L712.3 1119.3 L713.4 1118.3 L714.5 1117.3 L715.6 1116.3 L716.8 1115.3 L717.9 1114.3 L719.1 1113.3 L720.2 1112.4 L721.4 1111.4 L722.5 1110.5 L723.7 1109.5 L724.9 1108.6 L726.0 1107.7 L727.2 1106.7 L728.4 1105.8 L729.6 1104.9 L730.8 1104.0 L732.0 1103.2 L733.2 1102.3 L734.4 1101.4 L735.6 1100.6 L736.8 1099.7 L738.1 1098.9 L739.3 1098.1 L740.5 1097.3 L741.8 1096.4 L743.0 1095.7 L744.3 1094.9 L745.6 1094.1 L746.8 1093.4 L748.1 1092.6 L749.4 1091.9 L750.7 1091.1 L752.0 1090.4 L753.3 1089.7 L754.6 1089.1 L755.9 1088.4 L757.3 1087.7 L758.6 1087.1 L759.9 1086.4 L761.3 1085.8 L762.6 1085.2 L764.0 1084.6 L765.4 1084.0 L766.7 1083.5 L768.1 1082.9 L769.5 1082.4 L770.9 1081.8 L772.3 1081.3 L773.7 1080.8 L775.1 1080.3 L776.5 1079.8 L777.9 1079.4 L779.4 1078.9 L780.8 1078.5 L782.2 1078.0 L783.6 1077.6 L785.1 1077.2 L786.5 1076.8 L788.0 1076.4 L789.4 1076.1 L790.9 1075.7 L792.4 1075.3 L793.8 1075.0 L795.3 1074.7 L796.8 1074.4 L798.2 1074.1 L799.7 1073.8 L801.2 1073.5 L802.7 1073.2 L804.1 1073.0 L805.6 1072.7 L807.1 1072.5 L808.6 1072.3 L810.1 1072.1 L811.6 1071.9 L813.1 1071.7 L814.6 1071.5 L816.1 1071.4 L817.6 1071.2 L819.1 1071.1 L820.6 1070.9 L822.1 1070.8 L823.6 1070.7 L825.1 1070.6 L826.6 1070.5 L828.1 1070.4 L829.6 1070.4 L831.1 1070.3 L832.6 1070.3 L834.1 1070.2 L835.6 1070.2 L837.1 1070.2 L838.6 1070.2 L840.1 1070.2 L841.6 1070.2 L843.1 1070.2 L844.6 1070.3 L846.1 1070.3 L847.6 1070.4 L849.1 1070.4 L850.6 1070.5 L852.1 1070.6 L853.6 1070.6 L855.1 1070.7 L856.6 1070.8 L858.1 1070.9 L859.5 1071.1 L861.0 1071.2 L862.5 1071.3 L864.0 1071.5 L865.5 1071.6 L867.0 1071.7 L868.5 1071.9 L870.0 1072.1 L871.5 1072.2 L873.0 1072.4 L874.4 1072.6 L875.9 1072.8 L877.4 1073.0 L878.9 1073.1 L880.4 1073.3 L881.9 1073.5 L883.4 1073.7 L884.9 1074.0 L886.3 1074.2 L887.8 1074.4 L889.3 1074.6 L890.8 1074.8 L892.3 1075.1 L893.8 1075.3 L895.3 1075.5 L896.8 1075.8 L898.2 1076.0 L899.7 1076.2 L901.2 1076.5 L902.7 1076.7 L904.2 1076.9 L905.7 1077.2 L907.1 1077.4 L908.6 1077.7 L910.1 1077.9 L911.6 1078.2 L913.1 1078.4 L914.6 1078.7 L916.1 1078.9 L917.5 1079.2 L919.0 1079.4 L920.5 1079.6 L922.0 1079.9 L923.5 1080.1 L925.0 1080.4 L926.5 1080.6 L927.9 1080.9 L929.4 1081.1 L930.9 1081.3 L932.4 1081.6 L933.9 1081.8 L935.4 1082.0 L936.9 1082.3 L938.3 1082.5 L939.8 1082.8 L941.3 1083.0 L942.8 1083.2 L944.3 1083.5 L945.8 1083.7 L947.3 1083.9 L948.7 1084.2 L950.2 1084.4 L951.7 1084.6 L953.2 1084.8 L954.7 1085.1 L956.2 1085.3 L957.7 1085.5 L959.1 1085.8 L960.6 1086.0 L962.1 1086.2 L963.6 1086.4 L965.1 1086.6 L966.6 1086.9 L968.1 1087.1 L969.6 1087.3 L971.0 1087.5 L972.5 1087.7 L974.0 1088.0 L975.5 1088.2 L977.0 1088.4 L978.5 1088.6 L980.0 1088.8 L981.5 1089.0 L982.9 1089.2 L984.4 1089.4 L985.9 1089.6 L987.4 1089.8 L988.9 1090.0 L990.4 1090.2 L991.9 1090.4 L993.4 1090.6 L994.8 1090.8 L996.3 1091.0 L997.8 1091.2 L999.3 1091.4 L1000.8 1091.6 L1002.3 1091.8 L1003.8 1092.0 L1005.3 1092.2 L1006.8 1092.4 L1008.2 1092.6 L1009.7 1092.7 L1011.2 1092.9 L1012.7 1093.1 L1014.2 1093.3 L1015.7 1093.5 L1017.2 1093.6 L1018.7 1093.8 L1020.2 1094.0 L1021.6 1094.2 L1023.1 1094.3 L1024.6 1094.5 L1026.1 1094.7 L1027.6 1094.8 L1029.1 1095.0 L1030.6 1095.2 L1032.1 1095.3 L1033.6 1095.5 L1035.1 1095.6 L1036.5 1095.8 L1038.0 1095.9 L1039.5 1096.1 L1041.0 1096.2 L1042.5 1096.4 L1044.0 1096.5 L1045.5 1096.7 L1047.0 1096.8 L1048.5 1097.0 L1050.0 1097.1 L1051.5 1097.2 L1052.9 1097.4 L1054.4 1097.5 L1055.9 1097.6 L1057.4 1097.7 L1058.9 1097.9 L1060.4 1098.0 L1061.9 1098.1 L1063.4 1098.2 L1064.9 1098.4 L1066.4 1098.5 L1067.9 1098.6 L1069.4 1098.7 L1070.9 1098.8 L1072.3 1098.9 L1073.8 1099.0 L1075.3 1099.1 L1076.8 1099.2 L1078.3 1099.3 L1079.8 1099.4 L1081.3 1099.5 L1082.8 1099.6 L1084.3 1099.7 L1085.8 1099.8 L1087.3 1099.8 L1088.8 1099.9 L1090.3 1100.0 L1091.8 1100.1 L1093.3 1100.2 L1094.8 1100.2 L1096.2 1100.3 L1097.7 1100.4 L1099.2 1100.4 L1100.7 1100.5 L1102.2 1100.6 L1103.7 1100.6 L1105.2 1100.7 L1106.7 1100.7 L1108.2 1100.8 L1109.7 1100.8 L1111.2 1100.9 L1112.7 1100.9 L1114.2 1101.0 L1115.7 1101.0 L1117.2 1101.0 L1118.7 1101.1 L1120.2 1101.1 L1121.7 1101.1 L1123.2 1101.2 L1124.7 1101.2 L1126.2 1101.2 L1127.7 1101.2 L1129.2 1101.3 L1130.7 1101.3 L1132.2 1101.3 L1133.7 1101.3 L1135.1 1101.3 L1136.6 1101.4 L1138.1 1101.4 L1139.6 1101.4 L1141.1 1101.4 L1142.6 1101.4 L1144.1 1101.4 L1145.6 1101.4 L1147.1 1101.4 L1148.6 1101.4 L1150.1 1101.4 L1151.6 1101.4 L1153.1 1101.4 L1154.6 1101.4 L1156.1 1101.4 L1157.6 1101.4 L1159.1 1101.4 L1160.6 1101.3 L1162.1 1101.3 L1163.6 1101.3 L1165.1 1101.3 L1166.6 1101.3 L1168.1 1101.3 L1169.6 1101.2 L1171.1 1101.2 L1172.6 1101.2 L1174.1 1101.2 L1175.6 1101.2 L1177.1 1101.1 L1178.6 1101.1 L1180.1 1101.1 L1181.6 1101.1 L1183.1 1101.0 L1184.6 1101.0 L1186.1 1101.0 L1187.6 1100.9 L1189.1 1100.9 L1190.6 1100.9 L1192.1 1100.8 L1193.6 1100.8 L1195.1 1100.8 L1196.6 1100.7 L1198.1 1100.7 L1199.6 1100.6 L1201.1 1100.6 L1202.6 1100.6 L1204.1 1100.5 L1205.6 1100.5 L1207.1 1100.4 L1208.6 1100.4 L1210.1 1100.3 L1211.6 1100.3 L1213.1 1100.3 L1214.6 1100.2 L1216.1 1100.2 L1217.6 1100.1 L1219.1 1100.1 L1220.6 1100.0 L1222.1 1100.0 L1223.6 1099.9 L1225.1 1099.9 L1226.6 1099.8 L1228.1 1099.8 L1229.6 1099.7 L1231.1 1099.7 L1232.6 1099.6 L1234.1 1099.6 L1235.6 1099.5 L1237.1 1099.5 L1238.6 1099.4 L1240.1 1099.4 L1241.6 1099.3 L1243.1 1099.3 L1244.6 1099.2 L1246.1 1099.2 L1247.6 1099.1 L1249.1 1099.1 L1250.6 1099.0 L1252.1 1099.0 L1253.6 1098.9 L1255.1 1098.9 L1256.6 1098.8 L1258.1 1098.8 L1259.6 1098.7 L1261.1 1098.7 L1262.6 1098.6 L1264.1 1098.6 L1265.6 1098.5 L1267.1 1098.5 L1268.6 1098.5 L1270.1 1098.4 L1271.6 1098.4 L1273.1 1098.3 L1274.6 1098.3 L1276.1 1098.2 L1277.6 1098.2 L1279.1 1098.1 L1280.6 1098.1 L1282.1 1098.0 L1283.6 1098.0 L1285.1 1098.0 L1286.6 1097.9 L1288.1 1097.9 L1289.6 1097.8 L1291.1 1097.8 L1292.6 1097.8 L1294.1 1097.7 L1295.6 1097.7 L1297.1 1097.6 L1298.6 1097.6 L1300.1 1097.6 L1301.7 1097.5 L1303.2 1097.5 L1304.7 1097.4 L1306.2 1097.4 L1307.7 1097.4 L1309.2 1097.3 L1310.7 1097.3 L1312.2 1097.3 L1313.7 1097.2 L1315.2 1097.2 L1316.7 1097.2 L1318.2 1097.1 L1319.7 1097.1 L1321.2 1097.1 L1322.7 1097.0 L1324.2 1097.0 L1325.7 1097.0 L1327.2 1096.9 L1328.7 1096.9 L1330.2 1096.9 L1331.7 1096.8 L1333.2 1096.8 L1334.7 1096.8 L1336.2 1096.8 L1337.7 1096.7 L1339.2 1096.7 L1340.7 1096.7 L1342.2 1096.6 L1343.7 1096.6 L1345.2 1096.6 L1346.7 1096.6 L1348.2 1096.5 L1349.7 1096.5 L1351.2 1096.5 L1352.7 1096.5 L1354.2 1096.4 L1355.7 1096.4 L1357.2 1096.4 L1358.7 1096.4 L1360.2 1096.3 L1361.7 1096.3 L1363.2 1096.3 L1364.7 1096.3 L1366.2 1096.3 L1367.7 1096.2 L1369.2 1096.2 L1370.7 1096.2 L1372.2 1096.2 L1373.7 1096.2 L1375.2 1096.1 L1376.7 1096.1 L1378.2 1096.1 L1379.7 1096.1 L1381.2 1096.1 L1382.7 1096.0 L1384.2 1096.0 L1385.7 1096.0 L1387.2 1096.0 L1388.7 1096.0 L1390.2 1096.0 L1391.7 1095.9 L1393.2 1095.9 L1394.7 1095.9 L1396.2 1095.9 L1397.7 1095.9 L1399.2 1095.9 L1400.7 1095.8 L1402.2 1095.8 L1403.7 1095.8 L1405.2 1095.8 L1406.7 1095.8 L1408.2 1095.8 L1409.7 1095.8 L1411.2 1095.7 L1412.7 1095.7 L1414.2 1095.7 L1415.7 1095.7 L1417.2 1095.7 L1418.7 1095.7 L1420.2 1095.7 L1421.7 1095.7 L1423.2 1095.7 L1424.7 1095.6 L1426.2 1095.6 L1427.7 1095.6 L1429.2 1095.6 L1430.7 1095.6 L1432.2 1095.6 L1433.7 1095.6 L1435.2 1095.6 L1436.7 1095.6 L1438.2 1095.6 L1439.7 1095.6 L1441.2 1095.6 L1442.7 1095.5 L1444.2 1095.5 L1445.7 1095.5 L1447.2 1095.5 L1448.7 1095.5 L1450.2 1095.5 L1451.7 1095.5 L1453.2 1095.5 L1454.7 1095.5 L1456.2 1095.5 L1457.7 1095.5 L1459.2 1095.5 L1460.7 1095.5 L1462.2 1095.5 L1463.7 1095.5 L1465.2 1095.5 L1466.7 1095.5 L1468.2 1095.5 L1469.7 1095.5 L1471.2 1095.5 L1472.7 1095.5 L1474.2 1095.5 L1475.7 1095.4 L1477.2 1095.4 L1478.7 1095.4 L1480.2 1095.4 L1481.7 1095.4 L1483.2 1095.4 L1484.7 1095.4 L1486.2 1095.4 L1487.7 1095.4 L1489.2 1095.4 L1490.7 1095.4 L1492.2 1095.4 L1493.7 1095.4 L1495.2 1095.4 L1496.7 1095.4 L1498.2 1095.4 L1499.7 1095.4 L1501.2 1095.4 L1502.7 1095.4 L1504.2 1095.4 L1505.7 1095.4 L1507.2 1095.4 L1508.7 1095.4 L1510.2 1095.4 L1511.7 1095.4 L1513.2 1095.5 L1514.7 1095.5 L1516.2 1095.5 L1517.7 1095.5 L1519.2 1095.5 L1520.7 1095.5 L1522.2 1095.5 L1523.7 1095.5 L1525.2 1095.5 L1526.7 1095.5 L1528.2 1095.5 L1529.7 1095.5 L1531.2 1095.5 L1532.7 1095.5 L1534.2 1095.5 L1535.7 1095.5 L1537.2 1095.5 L1538.7 1095.5 L1540.2 1095.5 L1541.7 1095.5 L1543.2 1095.5 L1544.7 1095.5 L1546.2 1095.5 L1547.7 1095.5 L1549.2 1095.5 L1550.8 1095.5 L1552.3 1095.6 L1553.8 1095.6 L1555.3 1095.6 L1556.8 1095.6 L1558.3 1095.6 L1559.8 1095.6 L1561.3 1095.6 L1562.8 1095.6 L1564.3 1095.6 L1565.8 1095.6 L1567.3 1095.6 L1568.8 1095.6 L1570.3 1095.6 L1571.8 1095.6 L1573.3 1095.6 L1574.8 1095.6 L1576.3 1095.6 L1577.8 1095.7 L1579.3 1095.7 L1580.8 1095.7 L1582.3 1095.7 L1583.8 1095.7 L1585.3 1095.7 L1586.8 1095.7 L1588.3 1095.7 L1589.8 1095.7 L1591.3 1095.7 L1592.8 1095.7 L1594.3 1095.7 L1595.8 1095.7 L1597.3 1095.7 L1598.8 1095.8 L1600.3 1095.8 L1601.8 1095.8 L1603.3 1095.8 L1604.8 1095.8 L1606.3 1095.8 L1607.8 1095.8 L1609.3 1095.8 L1610.8 1095.8 L1612.3 1095.8 L1613.8 1095.8 L1615.3 1095.8 L1616.8 1095.8 L1618.3 1095.8 L1619.8 1095.9 L1621.3 1095.9 L1622.8 1095.9 L1624.3 1095.9 L1625.8 1095.9 L1627.3 1095.9 L1628.8 1095.9 L1630.3 1095.9 L1631.8 1095.9 L1633.3 1095.9 L1634.8 1095.9 L1636.3 1095.9 L1637.8 1096.0 L1639.3 1096.0 L1640.8 1096.0 L1642.3 1096.0 L1643.8 1096.0 L1645.3 1096.0 L1646.8 1096.0 L1648.3 1096.0 L1649.8 1096.0 L1651.3 1096.0 L1652.8 1096.0 L1654.3 1096.0 L1655.8 1096.0 L1657.3 1096.0 L1658.8 1096.1 L1660.3 1096.1 L1661.8 1096.1 L1663.3 1096.1 L1664.8 1096.1 L1666.3 1096.1 L1667.8 1096.1 L1669.3 1096.1 L1670.8 1096.1 L1672.3 1096.1 L1673.8 1096.1 L1675.3 1096.1 L1676.8 1096.1 L1678.3 1096.1 L1679.8 1096.2 L1681.3 1096.2 L1682.8 1096.2 L1684.3 1096.2 L1685.8 1096.2 L1687.3 1096.2 L1688.8 1096.2 L1690.3 1096.2 L1691.8 1096.2 L1693.3 1096.2 L1694.8 1096.2 L1696.3 1096.2 L1697.8 1096.2 L1699.3 1096.2 L1700.8 1096.2 L1702.3 1096.2 L1703.8 1096.3 L1705.3 1096.3 L1706.8 1096.3 L1708.3 1096.3 L1709.8 1096.3 L1711.3 1096.3 L1712.8 1096.3 L1714.3 1096.3 L1715.8 1096.3 L1717.3 1096.3 L1718.8 1096.3 L1720.3 1096.3 L1721.8 1096.3 L1723.3 1096.3 L1724.8 1096.3 L1726.3 1096.3 L1727.8 1096.3 L1729.3 1096.3 L1730.8 1096.3 L1732.3 1096.3 L1733.8 1096.3 L1735.3 1096.3 L1736.8 1096.3 L1738.3 1096.3 L1739.8 1096.3 L1741.3 1096.3 L1742.8 1096.4 L1744.3 1096.4 L1745.8 1096.4 L1747.3 1096.4 L1748.8 1096.4 L1750.3 1096.4 L1751.8 1096.4 L1753.3 1096.4 L1754.8 1096.4 L1756.3 1096.4 L1757.8 1096.4 L1759.3 1096.4 L1760.8 1096.4 L1762.3 1096.4 L1763.8 1096.4 L1765.3 1096.4 L1766.8 1096.4 L1768.3 1096.4 L1769.8 1096.4 L1771.3 1096.4 L1772.8 1096.4 L1774.3 1096.4 L1775.8 1096.4 L1777.3 1096.4 L1778.8 1096.4 L1780.3 1096.4 L1781.8 1096.4 L1783.3 1096.4 L1784.8 1096.4 L1786.3 1096.4 L1787.8 1096.4 L1789.3 1096.4 L1790.8 1096.4 L1792.3 1096.4 L1793.8 1096.4 L1795.3 1096.4 L1796.8 1096.4 L1798.3 1096.4 L1799.8 1096.4 L1801.3 1096.4 L1802.8 1096.4 L1804.3 1096.4 L1805.8 1096.4 L1807.3 1096.4 L1808.8 1096.3 L1810.3 1096.3 L1811.8 1096.3 L1813.3 1096.3 L1814.8 1096.3 L1816.3 1096.3 L1817.8 1096.3 L1819.3 1096.3 L1820.8 1096.3 L1822.3 1096.3 L1823.8 1096.3 L1825.3 1096.3 L1826.8 1096.3 L1828.3 1096.3 L1829.8 1096.3 L1831.4 1096.3 L1832.9 1096.3 L1834.4 1096.3 L1835.9 1096.3 L1837.4 1096.3 L1838.9 1096.3 L1840.4 1096.3 L1841.9 1096.3 L1843.4 1096.3 L1844.9 1096.3 L1846.4 1096.3 L1847.9 1096.3 L1849.4 1096.3 L1850.9 1096.3 L1852.4 1096.3 L1853.9 1096.3 L1855.4 1096.3 L1856.9 1096.2 L1858.4 1096.2 L1859.9 1096.2 L1861.4 1096.2 L1862.9 1096.2 L1864.4 1096.2 L1865.9 1096.2 L1867.4 1096.2 L1868.9 1096.2 L1870.4 1096.2 L1871.9 1096.2 L1873.4 1096.2 L1874.9 1096.2 L1876.4 1096.2 L1877.9 1096.2 L1879.4 1096.2 L1880.9 1096.2 L1882.4 1096.2 L1883.9 1096.2 L1885.4 1096.2 L1886.9 1096.2 L1888.4 1096.2 L1889.9 1096.2 L1891.4 1096.1 L1892.9 1096.1 L1894.4 1096.1 L1895.9 1096.1 L1897.4 1096.1 L1898.9 1096.1 L1900.4 1096.1 L1901.9 1096.1 L1903.4 1096.1 L1904.9 1096.1 L1906.4 1096.1 L1907.9 1096.1 L1909.4 1096.1 L1910.9 1096.1 L1912.4 1096.1 L1913.9 1096.1 L1915.4 1096.1 L1916.9 1096.1 L1918.4 1096.1 L1919.9 1096.1 L1921.4 1096.0 L1922.9 1096.0 L1924.4 1096.0 L1925.9 1096.0 L1927.4 1096.0 L1928.9 1096.0 L1930.4 1096.0 L1931.9 1096.0 L1933.4 1096.0 L1934.9 1096.0 L1936.4 1096.0 L1937.9 1096.0 L1939.4 1096.0 L1940.9 1096.0 L1942.4 1096.0 L1943.9 1096.0 L1945.4 1096.0 L1946.9 1096.0 L1948.4 1096.0 L1949.9 1096.0 L1951.4 1096.0 L1952.9 1095.9 L1954.4 1095.9 L1955.9 1095.9 L1957.4 1095.9 L1958.9 1095.9 L1960.4 1095.9 L1961.9 1095.9 L1963.4 1095.9 L1964.9 1095.9 L1966.4 1095.9 L1967.9 1095.9 L1969.4 1095.9 L1970.9 1095.9 L1972.4 1095.9 L1973.9 1095.9 L1975.4 1095.9 L1976.9 1095.9 L1978.4 1095.9 L1979.9 1095.9 L1981.4 1095.9 L1982.9 1095.9 L1984.4 1095.9 L1985.9 1095.8 L1987.4 1095.8 L1988.9 1095.8 L1990.4 1095.8 L1991.9 1095.8 L1993.4 1095.8 L1994.9 1095.8 L1996.4 1095.8 L1997.9 1095.8 L1999.4 1095.8 L2000.9 1095.8 L2002.4 1095.8 L2003.9 1095.8 L2005.4 1095.8 L2006.9 1095.8 L2008.4 1095.8 L2009.9 1095.8 L2011.4 1095.8 L2012.9 1095.8 L2014.4 1095.8 L2015.9 1095.8 L2017.4 1095.8 L2018.9 1095.8 L2020.4 1095.8 L2021.9 1095.8 L2023.4 1095.8 L2024.9 1095.8 L2026.4 1095.8 L2027.9 1095.8 L2029.4 1095.8 L2030.9 1095.7 L2032.4 1095.7 L2033.9 1095.7 L2035.4 1095.7 L2036.9 1095.7 L2038.4 1095.7 L2040.0 1095.7 L2041.5 1095.7 L2043.0 1095.7 L2044.5 1095.7 L2046.0 1095.7 L2047.5 1095.7 L2049.0 1095.7 L2050.5 1095.7 L2052.0 1095.7 L2053.5 1095.7 L2055.0 1095.7 L2056.5 1095.7 L2058.0 1095.7 L2059.5 1095.7 L2061.0 1095.7 L2062.5 1095.7 L2064.0 1095.7 L2065.5 1095.7 L2067.0 1095.7 L2068.5 1095.7 L2070.0 1095.7 L2071.5 1095.7 L2073.0 1095.7 L2074.5 1095.7 L2076.0 1095.7 L2077.5 1095.7 L2079.0 1095.7 L2080.5 1095.7 L2082.0 1095.7 L2083.5 1095.7 L2085.0 1095.7 L2086.5 1095.7 L2088.0 1095.7 L2089.5 1095.7 L2091.0 1095.7 L2092.5 1095.7 L2094.0 1095.7 L2095.5 1095.7 L2097.0 1095.7 L2098.5 1095.7 L2100.0 1095.7 L2101.5 1095.7 L2103.0 1095.7 L2104.5 1095.7 L2106.0 1095.7 L2107.5 1095.7 L2109.0 1095.7 L2110.5 1095.7 L2112.0 1095.7 L2113.5 1095.8 L2115.0 1095.8 L2116.5 1095.8 L2118.0 1095.8 L2119.5 1095.8 L2121.0 1095.8 L2122.5 1095.8 L2124.0 1095.8 L2125.5 1095.8 L2127.0 1095.8 L2128.5 1095.8 L2130.0 1095.8 L2131.5 1095.8 L2133.0 1095.8 L2134.5 1095.8 L2136.0 1095.8 L2137.5 1095.8 L2139.0 1095.8 L2140.5 1095.8 L2142.0 1095.8 L2143.5 1095.8 L2145.0 1095.8 L2146.5 1095.9 L2148.0 1095.9 L2149.5 1095.9 L2151.0 1095.9 L2152.5 1095.9 L2154.0 1095.9 L2155.5 1095.9 L2157.0 1095.9 L2158.5 1095.9 L2160.0 1095.9 L2161.5 1095.9 L2163.0 1095.9 L2164.5 1095.9 L2166.0 1095.9 L2167.5 1096.0 L2169.0 1096.0 L2170.5 1096.0 L2172.0 1096.0 L2173.5 1096.0 L2175.0 1096.0 L2176.5 1096.0 L2178.0 1096.0" fill="none" stroke="#D95319" stroke-width="13.2" stroke-linejoin="round" shape-rendering="crispEdges" stroke-linecap="butt"/>
<path d="M213.0 1094.8 L213.2 1096.3 L213.3 1097.8 L213.5 1099.3 L213.7 1100.8 L213.9 1102.3 L214.0 1103.7 L214.2 1105.2 L214.4 1106.7 L214.5 1108.2 L214.7 1109.7 L214.9 1111.2 L215.0 1112.7 L215.2 1114.2 L215.4 1115.7 L215.5 1117.2 L215.7 1118.7 L215.9 1120.1 L216.0 1121.6 L216.2 1123.1 L216.4 1124.6 L216.5 1126.1 L216.7 1127.6 L216.9 1129.1 L217.0 1130.6 L217.2 1132.1 L217.4 1133.6 L217.5 1135.1 L217.7 1136.6 L217.9 1138.0 L218.0 1139.5 L218.2 1141.0 L218.3 1142.5 L218.5 1144.0 L218.7 1145.5 L218.8 1147.0 L219.0 1148.5 L219.2 1150.0 L219.3 1151.5 L219.5 1153.0 L219.6 1154.5 L219.8 1155.9 L220.0 1157.4 L220.1 1158.9 L220.3 1160.4 L220.5 1161.9 L220.6 1163.4 L220.8 1164.9 L220.9 1166.4 L221.1 1167.9 L221.3 1169.4 L221.4 1170.9 L221.6 1172.4 L221.8 1173.8 L221.9 1175.3 L222.1 1176.8 L222.2 1178.3 L222.4 1179.8 L222.6 1181.3 L222.7 1182.8 L222.9 1184.3 L223.1 1185.8 L223.2 1187.3 L223.4 1188.8 L223.6 1190.2 L223.7 1191.7 L223.9 1193.2 L224.1 1194.7 L224.2 1196.2 L224.4 1197.7 L224.6 1199.2 L224.7 1200.7 L224.9 1202.2 L225.1 1203.7 L225.2 1205.2 L225.4 1206.6 L225.6 1208.1 L225.7 1209.6 L225.9 1211.1 L226.1 1212.6 L226.2 1214.1 L226.4 1215.6 L226.6 1217.1 L226.7 1218.6 L226.9 1220.1 L227.1 1221.6 L227.3 1223.0 L227.4 1224.5 L227.6 1226.0 L227.8 1227.5 L228.0 1229.0 L228.1 1230.5 L228.3 1232.0 L228.5 1233.5 L228.7 1235.0 L228.8 1236.4 L229.0 1237.9 L229.2 1239.4 L229.4 1240.9 L229.5 1242.4 L229.7 1243.9 L229.9 1245.4 L230.1 1246.9 L230.3 1248.4 L230.4 1249.8 L230.6 1251.3 L230.8 1252.8 L231.0 1254.3 L231.2 1255.8 L231.4 1257.3 L231.6 1258.8 L231.7 1260.3 L231.9 1261.7 L232.1 1263.2 L232.3 1264.7 L232.5 1266.2 L232.7 1267.7 L232.9 1269.2 L233.1 1270.7 L233.3 1272.2 L233.5 1273.6 L233.6 1275.1 L233.8 1276.6 L234.0 1278.1 L234.2 1279.6 L234.4 1281.1 L234.6 1282.6 L234.8 1284.1 L235.0 1285.5 L235.2 1287.0 L235.4 1288.5 L235.6 1290.0 L235.8 1291.5 L236.1 1293.0 L236.3 1294.4 L236.5 1295.9 L236.7 1297.4 L236.9 1298.9 L237.1 1300.4 L237.3 1301.9 L237.5 1303.4 L237.7 1304.8 L238.0 1306.3 L238.2 1307.8 L238.4 1309.3 L238.6 1310.8 L238.8 1312.3 L239.0 1313.7 L239.3 1315.2 L239.5 1316.7 L239.7 1318.2 L239.9 1319.7 L240.2 1321.2 L240.4 1322.6 L240.6 1324.1 L240.8 1325.6 L241.1 1327.1 L241.3 1328.6 L241.5 1330.0 L241.8 1331.5 L242.0 1333.0 L242.2 1334.5 L242.5 1336.0 L242.7 1337.4 L243.0 1338.9 L243.2 1340.4 L243.5 1341.9 L243.7 1343.4 L243.9 1344.8 L244.2 1346.3 L244.4 1347.8 L244.7 1349.3 L244.9 1350.8 L245.2 1352.2 L245.4 1353.7 L245.7 1355.2 L246.0 1356.7 L246.2 1358.1 L246.5 1359.6 L246.7 1361.1 L247.0 1362.6 L247.3 1364.1 L247.5 1365.5 L247.8 1367.0 L248.1 1368.5 L248.3 1370.0 L248.6 1371.4 L248.9 1372.9 L249.2 1374.4 L249.4 1375.9 L249.7 1377.3 L250.0 1378.8 L250.3 1380.3 L250.6 1381.8 L250.9 1383.2 L251.1 1384.7 L251.4 1386.2 L251.7 1387.7 L252.0 1389.1 L252.3 1390.6 L252.6 1392.1 L252.9 1393.5 L253.2 1395.0 L253.5 1396.5 L253.8 1398.0 L254.1 1399.4 L254.4 1400.9 L254.7 1402.4 L255.0 1403.8 L255.3 1405.3 L255.6 1406.8 L256.0 1408.3 L256.3 1409.7 L256.6 1411.2 L256.9 1412.7 L257.2 1414.1 L257.6 1415.6 L257.9 1417.1 L258.2 1418.5 L258.5 1420.0 L258.9 1421.5 L259.2 1422.9 L259.5 1424.4 L259.9 1425.9 L260.2 1427.3 L260.6 1428.8 L260.9 1430.3 L261.2 1431.7 L261.6 1433.2 L262.0 1434.7 L262.3 1436.1 L262.7 1437.6 L263.0 1439.0 L263.4 1440.5 L263.8 1442.0 L264.1 1443.4 L264.5 1444.9 L264.9 1446.3 L265.3 1447.8 L265.6 1449.2 L266.0 1450.7 L266.4 1452.1 L266.8 1453.6 L267.2 1455.0 L267.6 1456.5 L268.0 1457.9 L268.4 1459.3 L268.8 1460.8 L269.3 1462.2 L269.7 1463.7 L270.1 1465.1 L270.5 1466.5 L271.0 1467.9 L271.4 1469.4 L271.9 1470.8 L272.3 1472.2 L272.8 1473.6 L273.2 1475.1 L273.7 1476.5 L274.2 1477.9 L274.6 1479.3 L275.1 1480.7 L275.6 1482.1 L276.1 1483.5 L276.6 1484.9 L277.1 1486.3 L277.6 1487.7 L278.1 1489.1 L278.6 1490.5 L279.1 1491.9 L279.6 1493.3 L280.2 1494.7 L280.7 1496.1 L281.2 1497.5 L281.8 1498.8 L282.4 1500.2 L282.9 1501.6 L283.5 1503.0 L284.0 1504.3 L284.6 1505.7 L285.2 1507.1 L285.8 1508.4 L286.4 1509.8 L287.0 1511.1 L287.6 1512.5 L288.2 1513.9 L288.8 1515.2 L289.4 1516.6 L290.0 1518.0 L290.6 1519.3 L291.3 1520.7 L291.9 1522.0 L292.5 1523.4 L293.2 1524.8 L293.8 1526.1 L294.5 1527.5 L295.1 1528.9 L295.8 1530.3 L296.4 1531.6 L297.1 1533.0 L297.8 1534.4 L298.4 1535.8 L299.1 1537.1 L299.8 1538.5 L300.6 1539.9 L301.3 1541.3 L302.1 1542.6 L303.0 1544.0 L303.8 1545.3 L304.7 1546.6 L305.7 1548.0 L306.7 1549.2 L307.8 1550.5 L308.8 1551.7 L309.9 1552.9 L311.1 1554.1 L312.2 1555.2 L313.4 1556.2 L314.6 1557.2 L315.9 1558.1 L317.1 1558.9 L318.4 1559.7 L319.6 1560.4 L320.9 1560.9 L322.2 1561.4 L323.4 1561.8 L324.7 1562.1 L326.0 1562.3 L327.2 1562.4 L328.4 1562.3 L329.7 1562.2 L330.9 1561.9 L332.1 1561.5 L333.3 1561.0 L334.5 1560.4 L335.6 1559.8 L336.8 1559.1 L337.9 1558.2 L339.0 1557.3 L340.2 1556.4 L341.3 1555.4 L342.3 1554.3 L343.4 1553.2 L344.5 1552.1 L345.5 1550.9 L346.5 1549.7 L347.5 1548.4 L348.5 1547.2 L349.5 1545.9 L350.5 1544.6 L351.4 1543.4 L352.3 1542.1 L353.3 1540.8 L354.2 1539.5 L355.0 1538.2 L355.9 1536.9 L356.8 1535.6 L357.6 1534.3 L358.4 1533.0 L359.3 1531.7 L360.1 1530.4 L360.9 1529.1 L361.6 1527.7 L362.4 1526.4 L363.2 1525.1 L363.9 1523.8 L364.6 1522.4 L365.4 1521.1 L366.1 1519.8 L366.8 1518.4 L367.5 1517.1 L368.1 1515.7 L368.8 1514.4 L369.5 1513.0 L370.1 1511.7 L370.8 1510.3 L371.4 1508.9 L372.1 1507.6 L372.7 1506.2 L373.3 1504.9 L373.9 1503.5 L374.5 1502.1 L375.1 1500.8 L375.7 1499.4 L376.3 1498.0 L376.9 1496.6 L377.5 1495.3 L378.0 1493.9 L378.6 1492.5 L379.2 1491.1 L379.7 1489.7 L380.3 1488.3 L380.8 1487.0 L381.4 1485.6 L381.9 1484.2 L382.5 1482.8 L383.0 1481.4 L383.6 1480.0 L384.1 1478.6 L384.6 1477.2 L385.2 1475.8 L385.7 1474.4 L386.2 1473.0 L386.8 1471.6 L387.3 1470.2 L387.8 1468.8 L388.3 1467.4 L388.8 1466.0 L389.4 1464.6 L389.9 1463.2 L390.4 1461.8 L390.9 1460.4 L391.4 1459.0 L391.9 1457.6 L392.4 1456.2 L392.9 1454.8 L393.4 1453.4 L393.9 1452.0 L394.4 1450.6 L394.9 1449.1 L395.4 1447.7 L395.9 1446.3 L396.4 1444.9 L396.9 1443.5 L397.4 1442.1 L397.9 1440.7 L398.4 1439.2 L398.8 1437.8 L399.3 1436.4 L399.8 1435.0 L400.3 1433.6 L400.8 1432.1 L401.2 1430.7 L401.7 1429.3 L402.2 1427.9 L402.7 1426.4 L403.1 1425.0 L403.6 1423.6 L404.1 1422.2 L404.5 1420.7 L405.0 1419.3 L405.5 1417.9 L405.9 1416.5 L406.4 1415.0 L406.8 1413.6 L407.3 1412.2 L407.8 1410.7 L408.2 1409.3 L408.7 1407.9 L409.1 1406.5 L409.6 1405.0 L410.0 1403.6 L410.5 1402.2 L410.9 1400.7 L411.4 1399.3 L411.8 1397.9 L412.3 1396.4 L412.7 1395.0 L413.2 1393.6 L413.6 1392.1 L414.0 1390.7 L414.5 1389.2 L414.9 1387.8 L415.4 1386.4 L415.8 1384.9 L416.3 1383.5 L416.7 1382.1 L417.1 1380.6 L417.6 1379.2 L418.0 1377.7 L418.4 1376.3 L418.9 1374.9 L419.3 1373.4 L419.7 1372.0 L420.2 1370.5 L420.6 1369.1 L421.0 1367.7 L421.5 1366.2 L421.9 1364.8 L422.3 1363.3 L422.8 1361.9 L423.2 1360.5 L423.6 1359.0 L424.0 1357.6 L424.5 1356.1 L424.9 1354.7 L425.3 1353.2 L425.8 1351.8 L426.2 1350.4 L426.6 1348.9 L427.0 1347.5 L427.5 1346.0 L427.9 1344.6 L428.3 1343.1 L428.7 1341.7 L429.2 1340.3 L429.6 1338.8 L430.0 1337.4 L430.4 1335.9 L430.9 1334.5 L431.3 1333.0 L431.7 1331.6 L432.1 1330.2 L432.6 1328.7 L433.0 1327.3 L433.4 1325.8 L433.8 1324.4 L434.3 1323.0 L434.7 1321.5 L435.1 1320.1 L435.5 1318.6 L436.0 1317.2 L436.4 1315.7 L436.8 1314.3 L437.3 1312.9 L437.7 1311.4 L438.1 1310.0 L438.5 1308.5 L439.0 1307.1 L439.4 1305.7 L439.8 1304.2 L440.3 1302.8 L440.7 1301.4 L441.1 1299.9 L441.5 1298.5 L442.0 1297.0 L442.4 1295.6 L442.8 1294.2 L443.3 1292.7 L443.7 1291.3 L444.1 1289.9 L444.6 1288.4 L445.0 1287.0 L445.5 1285.6 L445.9 1284.1 L446.3 1282.7 L446.8 1281.3 L447.2 1279.8 L447.6 1278.4 L448.1 1277.0 L448.5 1275.5 L449.0 1274.1 L449.4 1272.7 L449.9 1271.2 L450.3 1269.8 L450.7 1268.4 L451.2 1266.9 L451.6 1265.5 L452.1 1264.1 L452.5 1262.7 L453.0 1261.2 L453.4 1259.8 L453.9 1258.4 L454.4 1257.0 L454.8 1255.5 L455.3 1254.1 L455.7 1252.7 L456.2 1251.3 L456.6 1249.9 L457.1 1248.4 L457.6 1247.0 L458.0 1245.6 L458.5 1244.2 L459.0 1242.8 L459.4 1241.3 L459.9 1239.9 L460.4 1238.5 L460.8 1237.1 L461.3 1235.7 L461.8 1234.3 L462.3 1232.9 L462.8 1231.4 L463.2 1230.0 L463.7 1228.6 L464.2 1227.2 L464.7 1225.8 L465.2 1224.4 L465.7 1223.0 L466.1 1221.6 L466.6 1220.2 L467.1 1218.8 L467.6 1217.4 L468.1 1216.0 L468.6 1214.6 L469.1 1213.2 L469.6 1211.8 L470.1 1210.4 L470.6 1209.0 L471.1 1207.6 L471.6 1206.2 L472.1 1204.8 L472.7 1203.4 L473.2 1202.0 L473.7 1200.6 L474.2 1199.2 L474.7 1197.8 L475.3 1196.4 L475.8 1195.0 L476.3 1193.7 L476.8 1192.3 L477.4 1190.9 L477.9 1189.5 L478.4 1188.1 L479.0 1186.7 L479.5 1185.3 L480.0 1183.9 L480.6 1182.6 L481.1 1181.2 L481.7 1179.8 L482.2 1178.4 L482.8 1177.0 L483.3 1175.6 L483.9 1174.3 L484.5 1172.9 L485.0 1171.5 L485.6 1170.1 L486.1 1168.8 L486.7 1167.4 L487.3 1166.0 L487.9 1164.6 L488.4 1163.2 L489.0 1161.9 L489.6 1160.5 L490.2 1159.1 L490.8 1157.7 L491.4 1156.4 L491.9 1155.0 L492.5 1153.6 L493.1 1152.2 L493.7 1150.9 L494.3 1149.5 L494.9 1148.1 L495.6 1146.8 L496.2 1145.4 L496.8 1144.0 L497.4 1142.7 L498.0 1141.3 L498.6 1139.9 L499.3 1138.5 L499.9 1137.2 L500.5 1135.8 L501.1 1134.4 L501.8 1133.1 L502.4 1131.7 L503.1 1130.3 L503.7 1129.0 L504.4 1127.6 L505.0 1126.2 L505.7 1124.9 L506.3 1123.5 L507.0 1122.1 L507.6 1120.8 L508.3 1119.4 L509.0 1118.1 L509.7 1116.7 L510.3 1115.3 L511.0 1114.0 L511.7 1112.6 L512.4 1111.2 L513.1 1109.9 L513.8 1108.5 L514.5 1107.2 L515.1 1105.8 L515.9 1104.4 L516.6 1103.1 L517.3 1101.7 L518.0 1100.3 L518.7 1099.0 L519.4 1097.6 L520.1 1096.3 L520.9 1094.9 L521.6 1093.5 L522.3 1092.2 L523.1 1090.8 L523.8 1089.5 L524.5 1088.1 L525.3 1086.7 L526.0 1085.4 L526.8 1084.0 L527.6 1082.7 L528.3 1081.3 L529.1 1080.0 L529.9 1078.6 L530.7 1077.3 L531.5 1076.0 L532.3 1074.6 L533.1 1073.3 L533.9 1072.0 L534.7 1070.7 L535.5 1069.4 L536.3 1068.1 L537.2 1066.8 L538.0 1065.5 L538.9 1064.2 L539.7 1063.0 L540.6 1061.7 L541.5 1060.4 L542.3 1059.2 L543.2 1058.0 L544.1 1056.7 L545.0 1055.5 L546.0 1054.3 L546.9 1053.2 L547.8 1052.0 L548.8 1050.8 L549.7 1049.7 L550.7 1048.5 L551.7 1047.4 L552.7 1046.3 L553.7 1045.2 L554.7 1044.1 L555.7 1043.0 L556.7 1042.0 L557.8 1041.0 L558.9 1039.9 L559.9 1038.9 L561.0 1037.9 L562.1 1037.0 L563.2 1036.0 L564.3 1035.1 L565.5 1034.2 L566.6 1033.3 L567.8 1032.4 L569.0 1031.6 L570.2 1030.7 L571.4 1029.9 L572.6 1029.1 L573.8 1028.3 L575.1 1027.6 L576.3 1026.9 L577.6 1026.1 L578.9 1025.5 L580.2 1024.8 L581.5 1024.2 L582.9 1023.6 L584.2 1023.0 L585.6 1022.4 L587.0 1021.8 L588.4 1021.3 L589.8 1020.8 L591.2 1020.3 L592.6 1019.9 L594.0 1019.4 L595.5 1019.0 L596.9 1018.6 L598.4 1018.2 L599.9 1017.9 L601.4 1017.6 L602.8 1017.2 L604.3 1017.0 L605.8 1016.7 L607.3 1016.4 L608.9 1016.2 L610.4 1016.0 L611.9 1015.8 L613.4 1015.6 L614.9 1015.5 L616.5 1015.3 L618.0 1015.2 L619.5 1015.1 L621.1 1015.1 L622.6 1015.0 L624.2 1015.0 L625.7 1015.0 L627.2 1015.0 L628.8 1015.0 L630.3 1015.0 L631.8 1015.1 L633.4 1015.1 L634.9 1015.2 L636.4 1015.3 L638.0 1015.5 L639.5 1015.6 L641.0 1015.8 L642.5 1015.9 L644.0 1016.1 L645.5 1016.3 L647.0 1016.6 L648.5 1016.8 L649.9 1017.1 L651.4 1017.4 L652.9 1017.6 L654.3 1018.0 L655.8 1018.3 L657.2 1018.6 L658.6 1019.0 L660.1 1019.3 L661.5 1019.7 L662.9 1020.1 L664.3 1020.5 L665.7 1020.9 L667.1 1021.4 L668.5 1021.8 L669.9 1022.3 L671.3 1022.7 L672.7 1023.2 L674.1 1023.7 L675.5 1024.2 L676.8 1024.7 L678.2 1025.3 L679.6 1025.8 L680.9 1026.4 L682.3 1026.9 L683.6 1027.5 L685.0 1028.1 L686.3 1028.7 L687.7 1029.3 L689.0 1029.9 L690.4 1030.5 L691.7 1031.1 L693.0 1031.7 L694.4 1032.4 L695.7 1033.0 L697.0 1033.7 L698.4 1034.3 L699.7 1035.0 L701.0 1035.7 L702.3 1036.3 L703.7 1037.0 L705.0 1037.7 L706.3 1038.4 L707.6 1039.1 L708.9 1039.8 L710.3 1040.5 L711.6 1041.2 L712.9 1042.0 L714.2 1042.7 L715.5 1043.4 L716.8 1044.1 L718.2 1044.9 L719.5 1045.6 L720.8 1046.3 L722.1 1047.1 L723.4 1047.8 L724.8 1048.6 L726.1 1049.3 L727.4 1050.0 L728.7 1050.8 L730.1 1051.5 L731.4 1052.3 L732.7 1053.0 L734.1 1053.8 L735.4 1054.5 L736.8 1055.3 L738.1 1056.0 L739.4 1056.7 L740.8 1057.5 L742.1 1058.2 L743.5 1059.0 L744.8 1059.7 L746.2 1060.4 L747.6 1061.2 L748.9 1061.9 L750.3 1062.6 L751.6 1063.4 L753.0 1064.1 L754.4 1064.8 L755.7 1065.5 L757.1 1066.2 L758.5 1066.9 L759.9 1067.7 L761.2 1068.4 L762.6 1069.1 L764.0 1069.8 L765.4 1070.5 L766.8 1071.1 L768.2 1071.8 L769.6 1072.5 L770.9 1073.2 L772.3 1073.9 L773.7 1074.5 L775.1 1075.2 L776.5 1075.8 L777.9 1076.5 L779.3 1077.1 L780.7 1077.8 L782.1 1078.4 L783.6 1079.1 L785.0 1079.7 L786.4 1080.3 L787.8 1080.9 L789.2 1081.5 L790.6 1082.1 L792.0 1082.7 L793.5 1083.3 L794.9 1083.9 L796.3 1084.4 L797.7 1085.0 L799.1 1085.6 L800.6 1086.1 L802.0 1086.7 L803.4 1087.2 L804.9 1087.7 L806.3 1088.2 L807.7 1088.7 L809.1 1089.2 L810.6 1089.7 L812.0 1090.2 L813.5 1090.7 L814.9 1091.2 L816.3 1091.6 L817.8 1092.1 L819.2 1092.5 L820.7 1092.9 L822.1 1093.3 L823.6 1093.7 L825.0 1094.1 L826.4 1094.5 L827.9 1094.9 L829.3 1095.3 L830.8 1095.6 L832.2 1096.0 L833.7 1096.3 L835.2 1096.7 L836.6 1097.0 L838.1 1097.3 L839.5 1097.6 L841.0 1097.9 L842.4 1098.2 L843.9 1098.5 L845.4 1098.8 L846.8 1099.0 L848.3 1099.3 L849.7 1099.5 L851.2 1099.8 L852.7 1100.0 L854.1 1100.2 L855.6 1100.5 L857.1 1100.7 L858.5 1100.9 L860.0 1101.1 L861.5 1101.3 L863.0 1101.4 L864.4 1101.6 L865.9 1101.8 L867.4 1101.9 L868.9 1102.1 L870.3 1102.3 L871.8 1102.4 L873.3 1102.5 L874.8 1102.7 L876.2 1102.8 L877.7 1102.9 L879.2 1103.0 L880.7 1103.1 L882.2 1103.2 L883.6 1103.3 L885.1 1103.4 L886.6 1103.5 L888.1 1103.6 L889.6 1103.7 L891.1 1103.7 L892.5 1103.8 L894.0 1103.8 L895.5 1103.9 L897.0 1103.9 L898.5 1104.0 L900.0 1104.0 L901.5 1104.1 L903.0 1104.1 L904.4 1104.1 L905.9 1104.1 L907.4 1104.2 L908.9 1104.2 L910.4 1104.2 L911.9 1104.2 L913.4 1104.2 L914.9 1104.2 L916.4 1104.2 L917.9 1104.2 L919.4 1104.2 L920.9 1104.2 L922.4 1104.1 L923.8 1104.1 L925.3 1104.1 L926.8 1104.1 L928.3 1104.0 L929.8 1104.0 L931.3 1104.0 L932.8 1103.9 L934.3 1103.9 L935.8 1103.9 L937.3 1103.8 L938.8 1103.8 L940.3 1103.7 L941.8 1103.7 L943.3 1103.6 L944.8 1103.6 L946.3 1103.5 L947.8 1103.5 L949.3 1103.4 L950.8 1103.3 L952.3 1103.3 L953.8 1103.2 L955.3 1103.2 L956.8 1103.1 L958.3 1103.0 L959.8 1103.0 L961.3 1102.9 L962.8 1102.8 L964.3 1102.8 L965.8 1102.7 L967.3 1102.7 L968.8 1102.6 L970.3 1102.5 L971.8 1102.5 L973.3 1102.4 L974.8 1102.3 L976.3 1102.3 L977.8 1102.2 L979.3 1102.1 L980.8 1102.1 L982.3 1102.0 L983.8 1101.9 L985.3 1101.9 L986.8 1101.8 L988.3 1101.8 L989.8 1101.7 L991.3 1101.6 L992.8 1101.6 L994.3 1101.5 L995.8 1101.5 L997.3 1101.4 L998.8 1101.4 L1000.3 1101.3 L1001.8 1101.2 L1003.3 1101.2 L1004.8 1101.1 L1006.3 1101.1 L1007.8 1101.0 L1009.3 1101.0 L1010.8 1100.9 L1012.3 1100.8 L1013.8 1100.8 L1015.3 1100.7 L1016.8 1100.7 L1018.3 1100.6 L1019.8 1100.6 L1021.4 1100.5 L1022.9 1100.5 L1024.4 1100.4 L1025.9 1100.4 L1027.4 1100.3 L1028.9 1100.3 L1030.4 1100.2 L1031.9 1100.2 L1033.4 1100.1 L1034.9 1100.1 L1036.4 1100.0 L1037.9 1100.0 L1039.4 1099.9 L1040.9 1099.9 L1042.4 1099.8 L1043.9 1099.8 L1045.4 1099.7 L1046.9 1099.7 L1048.4 1099.6 L1049.9 1099.6 L1051.4 1099.6 L1052.9 1099.5 L1054.4 1099.5 L1055.9 1099.4 L1057.4 1099.4 L1058.9 1099.3 L1060.4 1099.3 L1061.9 1099.3 L1063.4 1099.2 L1064.9 1099.2 L1066.4 1099.1 L1067.9 1099.1 L1069.4 1099.0 L1070.9 1099.0 L1072.4 1099.0 L1073.9 1098.9 L1075.4 1098.9 L1076.9 1098.8 L1078.4 1098.8 L1079.9 1098.8 L1081.4 1098.7 L1082.9 1098.7 L1084.4 1098.7 L1085.9 1098.6 L1087.4 1098.6 L1088.9 1098.5 L1090.4 1098.5 L1091.9 1098.5 L1093.4 1098.4 L1094.9 1098.4 L1096.4 1098.4 L1097.9 1098.3 L1099.4 1098.3 L1100.9 1098.3 L1102.4 1098.2 L1103.9 1098.2 L1105.4 1098.2 L1106.9 1098.1 L1108.4 1098.1 L1109.9 1098.1 L1111.4 1098.0 L1112.9 1098.0 L1114.4 1098.0 L1115.9 1097.9 L1117.4 1097.9 L1118.9 1097.9 L1120.4 1097.8 L1121.9 1097.8 L1123.4 1097.8 L1124.9 1097.7 L1126.4 1097.7 L1127.9 1097.7 L1129.4 1097.7 L1130.9 1097.6 L1132.4 1097.6 L1133.9 1097.6 L1135.4 1097.5 L1136.9 1097.5 L1138.4 1097.5 L1139.9 1097.5 L1141.4 1097.4 L1142.9 1097.4 L1144.4 1097.4 L1145.9 1097.4 L1147.4 1097.3 L1148.9 1097.3 L1150.4 1097.3 L1151.9 1097.2 L1153.4 1097.2 L1154.9 1097.2 L1156.4 1097.2 L1157.9 1097.1 L1159.4 1097.1 L1160.9 1097.1 L1162.4 1097.1 L1163.9 1097.1 L1165.4 1097.0 L1166.9 1097.0 L1168.4 1097.0 L1169.9 1097.0 L1171.4 1096.9 L1172.9 1096.9 L1174.4 1096.9 L1175.9 1096.9 L1177.4 1096.9 L1178.9 1096.8 L1180.4 1096.8 L1181.9 1096.8 L1183.4 1096.8 L1184.9 1096.7 L1186.4 1096.7 L1187.9 1096.7 L1189.4 1096.7 L1190.9 1096.7 L1192.4 1096.7 L1193.9 1096.6 L1195.4 1096.6 L1196.9 1096.6 L1198.4 1096.6 L1199.9 1096.6 L1201.4 1096.5 L1202.9 1096.5 L1204.4 1096.5 L1205.9 1096.5 L1207.4 1096.5 L1208.9 1096.5 L1210.4 1096.4 L1211.9 1096.4 L1213.4 1096.4 L1214.9 1096.4 L1216.4 1096.4 L1217.9 1096.4 L1219.4 1096.3 L1220.9 1096.3 L1222.4 1096.3 L1223.9 1096.3 L1225.4 1096.3 L1226.9 1096.3 L1228.4 1096.2 L1229.9 1096.2 L1231.4 1096.2 L1232.9 1096.2 L1234.4 1096.2 L1235.9 1096.2 L1237.4 1096.2 L1238.9 1096.1 L1240.4 1096.1 L1241.9 1096.1 L1243.4 1096.1 L1244.9 1096.1 L1246.4 1096.1 L1247.9 1096.1 L1249.4 1096.1 L1250.9 1096.0 L1252.4 1096.0 L1253.9 1096.0 L1255.4 1096.0 L1256.9 1096.0 L1258.4 1096.0 L1259.9 1096.0 L1261.4 1096.0 L1262.9 1095.9 L1264.4 1095.9 L1265.9 1095.9 L1267.4 1095.9 L1268.9 1095.9 L1270.4 1095.9 L1271.9 1095.9 L1273.4 1095.9 L1274.9 1095.9 L1276.4 1095.9 L1277.9 1095.8 L1279.4 1095.8 L1280.9 1095.8 L1282.4 1095.8 L1283.9 1095.8 L1285.4 1095.8 L1286.9 1095.8 L1288.4 1095.8 L1289.9 1095.8 L1291.4 1095.8 L1292.9 1095.7 L1294.4 1095.7 L1295.9 1095.7 L1297.4 1095.7 L1298.9 1095.7 L1300.4 1095.7 L1301.9 1095.7 L1303.4 1095.7 L1304.9 1095.7 L1306.4 1095.7 L1307.9 1095.7 L1309.4 1095.7 L1310.9 1095.7 L1312.4 1095.6 L1313.9 1095.6 L1315.4 1095.6 L1316.9 1095.6 L1318.4 1095.6 L1319.9 1095.6 L1321.4 1095.6 L1322.9 1095.6 L1324.4 1095.6 L1325.9 1095.6 L1327.4 1095.6 L1328.9 1095.6 L1330.4 1095.6 L1331.9 1095.6 L1333.4 1095.5 L1334.9 1095.5 L1336.4 1095.5 L1337.9 1095.5 L1339.4 1095.5 L1340.9 1095.5 L1342.4 1095.5 L1343.9 1095.5 L1345.4 1095.5 L1346.9 1095.5 L1348.4 1095.5 L1349.9 1095.5 L1351.4 1095.5 L1352.9 1095.5 L1354.4 1095.5 L1355.9 1095.5 L1357.4 1095.4 L1358.9 1095.4 L1360.4 1095.4 L1361.9 1095.4 L1363.4 1095.4 L1364.9 1095.4 L1366.4 1095.4 L1367.9 1095.4 L1369.4 1095.4 L1370.9 1095.4 L1372.4 1095.4 L1373.9 1095.4 L1375.4 1095.4 L1376.9 1095.4 L1378.4 1095.4 L1379.9 1095.4 L1381.4 1095.4 L1382.9 1095.4 L1384.4 1095.4 L1385.9 1095.3 L1387.4 1095.3 L1388.9 1095.3 L1390.4 1095.3 L1391.9 1095.3 L1393.4 1095.3 L1394.9 1095.3 L1396.4 1095.3 L1397.9 1095.3 L1399.4 1095.3 L1400.9 1095.3 L1402.4 1095.3 L1403.9 1095.3 L1405.4 1095.3 L1406.9 1095.3 L1408.4 1095.3 L1409.9 1095.3 L1411.4 1095.3 L1412.9 1095.3 L1414.4 1095.3 L1415.9 1095.3 L1417.4 1095.3 L1418.9 1095.3 L1420.4 1095.3 L1421.9 1095.3 L1423.4 1095.2 L1424.9 1095.2 L1426.4 1095.2 L1427.9 1095.2 L1429.4 1095.2 L1430.9 1095.2 L1432.4 1095.2 L1433.9 1095.2 L1435.4 1095.2 L1436.9 1095.2 L1438.4 1095.2 L1439.9 1095.2 L1441.4 1095.2 L1442.9 1095.2 L1444.4 1095.2 L1445.9 1095.2 L1447.4 1095.2 L1448.9 1095.2 L1450.4 1095.2 L1451.9 1095.2 L1453.4 1095.2 L1454.9 1095.2 L1456.4 1095.2 L1457.9 1095.2 L1459.4 1095.2 L1460.9 1095.2 L1462.4 1095.2 L1463.9 1095.2 L1465.4 1095.2 L1466.9 1095.2 L1468.4 1095.2 L1469.9 1095.2 L1471.4 1095.2 L1472.9 1095.2 L1474.4 1095.2 L1475.9 1095.2 L1477.4 1095.2 L1478.9 1095.2 L1480.4 1095.1 L1481.9 1095.1 L1483.4 1095.1 L1484.9 1095.1 L1486.4 1095.1 L1487.9 1095.1 L1489.4 1095.1 L1490.9 1095.1 L1492.4 1095.1 L1493.9 1095.1 L1495.4 1095.1 L1496.9 1095.1 L1498.4 1095.1 L1499.9 1095.1 L1501.4 1095.1 L1502.9 1095.1 L1504.4 1095.1 L1505.9 1095.1 L1507.4 1095.1 L1508.9 1095.1 L1510.4 1095.1 L1511.9 1095.1 L1513.4 1095.1 L1514.9 1095.1 L1516.4 1095.1 L1517.9 1095.1 L1519.4 1095.1 L1520.9 1095.1 L1522.4 1095.1 L1523.9 1095.1 L1525.4 1095.1 L1526.9 1095.1 L1528.4 1095.1 L1529.9 1095.1 L1531.4 1095.1 L1532.9 1095.1 L1534.4 1095.1 L1535.9 1095.1 L1537.4 1095.1 L1538.9 1095.1 L1540.4 1095.1 L1541.9 1095.1 L1543.4 1095.1 L1544.9 1095.1 L1546.4 1095.1 L1547.9 1095.1 L1549.4 1095.1 L1550.9 1095.1 L1552.4 1095.1 L1553.9 1095.1 L1555.4 1095.1 L1556.9 1095.1 L1558.4 1095.1 L1559.9 1095.1 L1561.4 1095.1 L1562.9 1095.1 L1564.4 1095.1 L1565.9 1095.1 L1567.4 1095.1 L1568.9 1095.1 L1570.4 1095.1 L1571.9 1095.1 L1573.4 1095.1 L1574.9 1095.1 L1576.4 1095.1 L1577.9 1095.1 L1579.4 1095.1 L1580.9 1095.1 L1582.4 1095.1 L1583.9 1095.1 L1585.4 1095.1 L1586.9 1095.1 L1588.4 1095.1 L1589.9 1095.1 L1591.4 1095.1 L1592.9 1095.1 L1594.4 1095.1 L1595.9 1095.1 L1597.4 1095.1 L1598.9 1095.1 L1600.4 1095.1 L1601.9 1095.1 L1603.4 1095.1 L1604.9 1095.1 L1606.4 1095.1 L1607.9 1095.1 L1609.4 1095.1 L1610.9 1095.1 L1612.4 1095.1 L1613.9 1095.1 L1615.4 1095.1 L1616.9 1095.1 L1618.4 1095.1 L1619.9 1095.1 L1621.4 1095.1 L1622.9 1095.1 L1624.4 1095.1 L1625.9 1095.1 L1627.4 1095.1 L1628.9 1095.1 L1630.4 1095.1 L1631.9 1095.1 L1633.4 1095.1 L1634.9 1095.1 L1636.4 1095.1 L1637.9 1095.1 L1639.4 1095.1 L1640.9 1095.1 L1642.4 1095.1 L1643.9 1095.1 L1645.4 1095.1 L1646.9 1095.1 L1648.4 1095.1 L1649.9 1095.2 L1651.4 1095.2 L1652.9 1095.2 L1654.4 1095.2 L1655.9 1095.2 L1657.4 1095.2 L1658.9 1095.2 L1660.4 1095.2 L1661.9 1095.2 L1663.4 1095.2 L1664.9 1095.2 L1666.4 1095.2 L1667.9 1095.2 L1669.4 1095.2 L1670.9 1095.2 L1672.4 1095.2 L1673.9 1095.2 L1675.4 1095.2 L1676.9 1095.2 L1678.4 1095.2 L1679.9 1095.2 L1681.4 1095.2 L1682.9 1095.2 L1684.4 1095.2 L1685.9 1095.2 L1687.4 1095.2 L1688.9 1095.2 L1690.4 1095.2 L1691.9 1095.2 L1693.4 1095.2 L1694.9 1095.2 L1696.4 1095.2 L1697.9 1095.2 L1699.4 1095.2 L1700.9 1095.2 L1702.4 1095.2 L1703.9 1095.2 L1705.4 1095.2 L1706.9 1095.2 L1708.4 1095.2 L1709.9 1095.2 L1711.4 1095.2 L1712.9 1095.2 L1714.4 1095.2 L1715.9 1095.2 L1717.4 1095.2 L1718.9 1095.2 L1720.4 1095.2 L1721.9 1095.2 L1723.4 1095.2 L1724.9 1095.2 L1726.4 1095.2 L1727.9 1095.2 L1729.4 1095.2 L1730.9 1095.2 L1732.4 1095.2 L1733.9 1095.3 L1735.4 1095.3 L1736.9 1095.3 L1738.4 1095.3 L1739.9 1095.3 L1741.4 1095.3 L1742.9 1095.3 L1744.4 1095.3 L1745.9 1095.3 L1747.4 1095.3 L1748.9 1095.3 L1750.4 1095.3 L1751.9 1095.3 L1753.4 1095.3 L1754.9 1095.3 L1756.4 1095.3 L1757.9 1095.3 L1759.4 1095.3 L1760.9 1095.3 L1762.4 1095.3 L1763.9 1095.3 L1765.4 1095.3 L1766.9 1095.3 L1768.4 1095.3 L1769.9 1095.3 L1771.4 1095.3 L1772.9 1095.3 L1774.4 1095.3 L1775.9 1095.3 L1777.4 1095.3 L1778.9 1095.3 L1780.4 1095.3 L1781.9 1095.3 L1783.4 1095.3 L1784.9 1095.3 L1786.4 1095.3 L1787.9 1095.3 L1789.4 1095.3 L1790.9 1095.3 L1792.4 1095.3 L1793.9 1095.3 L1795.4 1095.3 L1796.9 1095.3 L1798.4 1095.3 L1799.9 1095.3 L1801.4 1095.3 L1802.9 1095.3 L1804.4 1095.3 L1805.9 1095.4 L1807.4 1095.4 L1808.9 1095.4 L1810.4 1095.4 L1811.9 1095.4 L1813.4 1095.4 L1814.9 1095.4 L1816.4 1095.4 L1817.9 1095.4 L1819.4 1095.4 L1820.9 1095.4 L1822.4 1095.4 L1823.9 1095.4 L1825.4 1095.4 L1826.9 1095.4 L1828.4 1095.4 L1829.9 1095.4 L1831.4 1095.4 L1832.9 1095.4 L1834.4 1095.4 L1835.9 1095.4 L1837.4 1095.4 L1838.9 1095.4 L1840.4 1095.4 L1841.9 1095.4 L1843.4 1095.4 L1844.9 1095.4 L1846.4 1095.4 L1847.9 1095.4 L1849.4 1095.4 L1850.9 1095.4 L1852.4 1095.4 L1853.9 1095.4 L1855.4 1095.4 L1857.0 1095.4 L1858.5 1095.4 L1860.0 1095.4 L1861.5 1095.4 L1863.0 1095.4 L1864.5 1095.4 L1866.0 1095.4 L1867.5 1095.4 L1869.0 1095.4 L1870.5 1095.4 L1872.0 1095.4 L1873.5 1095.4 L1875.0 1095.4 L1876.5 1095.4 L1878.0 1095.4 L1879.5 1095.4 L1881.0 1095.4 L1882.5 1095.5 L1884.0 1095.5 L1885.5 1095.5 L1887.0 1095.5 L1888.5 1095.5 L1890.0 1095.5 L1891.5 1095.5 L1893.0 1095.5 L1894.5 1095.5 L1896.0 1095.5 L1897.5 1095.5 L1899.0 1095.5 L1900.5 1095.5 L1902.0 1095.5 L1903.5 1095.5 L1905.0 1095.5 L1906.5 1095.5 L1908.0 1095.5 L1909.5 1095.5 L1911.0 1095.5 L1912.5 1095.5 L1914.0 1095.5 L1915.5 1095.5 L1917.0 1095.5 L1918.5 1095.5 L1920.0 1095.5 L1921.5 1095.5 L1923.0 1095.5 L1924.5 1095.5 L1926.0 1095.5 L1927.5 1095.5 L1929.0 1095.5 L1930.5 1095.5 L1932.0 1095.5 L1933.5 1095.5 L1935.0 1095.5 L1936.5 1095.5 L1938.0 1095.5 L1939.5 1095.5 L1941.0 1095.5 L1942.5 1095.5 L1944.0 1095.5 L1945.5 1095.5 L1947.0 1095.5 L1948.5 1095.5 L1950.0 1095.5 L1951.5 1095.5 L1953.0 1095.5 L1954.5 1095.5 L1956.0 1095.5 L1957.5 1095.5 L1959.0 1095.5 L1960.5 1095.5 L1962.0 1095.5 L1963.5 1095.5 L1965.0 1095.5 L1966.5 1095.5 L1968.0 1095.5 L1969.5 1095.5 L1971.0 1095.5 L1972.5 1095.5 L1974.0 1095.5 L1975.5 1095.5 L1977.0 1095.5 L1978.5 1095.5 L1980.0 1095.5 L1981.5 1095.5 L1983.0 1095.5 L1984.5 1095.5 L1986.0 1095.5 L1987.5 1095.5 L1989.0 1095.5 L1990.5 1095.5 L1992.0 1095.5 L1993.5 1095.5 L1995.0 1095.5 L1996.5 1095.5 L1998.0 1095.5 L1999.5 1095.5 L2001.0 1095.5 L2002.5 1095.5 L2004.0 1095.5 L2005.5 1095.5 L2007.0 1095.5 L2008.5 1095.5 L2010.0 1095.5 L2011.5 1095.5 L2013.0 1095.5 L2014.5 1095.5 L2016.0 1095.5 L2017.5 1095.5 L2019.0 1095.5 L2020.5 1095.5 L2022.0 1095.5 L2023.5 1095.5 L2025.0 1095.5 L2026.5 1095.5 L2028.0 1095.5 L2029.5 1095.5 L2031.0 1095.5 L2032.5 1095.5 L2034.0 1095.5 L2035.5 1095.5 L2037.0 1095.5 L2038.5 1095.5 L2040.0 1095.5 L2041.5 1095.5 L2043.0 1095.5 L2044.5 1095.5 L2046.0 1095.5 L2047.5 1095.5 L2049.0 1095.5 L2050.5 1095.5 L2052.0 1095.5 L2053.5 1095.5 L2055.0 1095.5 L2056.5 1095.5 L2058.0 1095.5 L2059.5 1095.5 L2061.0 1095.5 L2062.5 1095.5 L2064.0 1095.5 L2065.5 1095.5 L2067.0 1095.5 L2068.5 1095.5 L2070.0 1095.5 L2071.5 1095.5 L2073.0 1095.5 L2074.5 1095.5 L2076.0 1095.5 L2077.5 1095.5 L2079.0 1095.5 L2080.5 1095.5 L2082.0 1095.5 L2083.5 1095.5 L2085.0 1095.5 L2086.5 1095.5 L2088.0 1095.5 L2089.5 1095.5 L2091.0 1095.5 L2092.5 1095.5 L2094.0 1095.5 L2095.5 1095.5 L2097.0 1095.5 L2098.5 1095.5 L2100.0 1095.5 L2101.5 1095.5 L2103.0 1095.5 L2104.5 1095.5 L2106.0 1095.5 L2107.5 1095.4 L2109.0 1095.4 L2110.5 1095.4 L2112.0 1095.4 L2113.5 1095.4 L2115.0 1095.4 L2116.5 1095.4 L2118.0 1095.4 L2119.5 1095.4 L2121.0 1095.4 L2122.5 1095.4 L2124.0 1095.4 L2125.5 1095.4 L2127.0 1095.4 L2128.5 1095.4 L2130.0 1095.4 L2131.5 1095.4 L2133.0 1095.4 L2134.5 1095.4 L2136.0 1095.4 L2137.5 1095.4 L2139.0 1095.4 L2140.5 1095.4 L2142.0 1095.4 L2143.5 1095.4 L2145.0 1095.4 L2146.5 1095.4 L2148.0 1095.4 L2149.5 1095.4 L2151.0 1095.4 L2152.5 1095.4 L2154.0 1095.4 L2155.5 1095.3 L2157.0 1095.3 L2158.5 1095.3 L2160.0 1095.3 L2161.5 1095.3 L2163.0 1095.3 L2164.5 1095.3 L2166.0 1095.3 L2167.5 1095.3 L2169.0 1095.3 L2170.5 1095.3 L2172.0 1095.3 L2173.5 1095.3 L2175.0 1095.3 L2176.5 1095.3 L2178.0 1095.3" fill="none" stroke="#EDB120" stroke-width="13.2" stroke-linejoin="round" shape-rendering="crispEdges" stroke-linecap="butt"/>
<path d="M213.0 1094.8 L213.2 1096.3 L213.3 1097.7 L213.5 1099.2 L213.7 1100.6 L213.8 1102.1 L214.0 1103.6 L214.1 1105.1 L214.2 1106.5 L214.4 1108.0 L214.5 1109.5 L214.6 1111.0 L214.8 1112.4 L214.9 1113.9 L215.0 1115.4 L215.1 1116.9 L215.2 1118.4 L215.3 1119.9 L215.4 1121.4 L215.5 1122.9 L215.6 1124.3 L215.7 1125.8 L215.8 1127.3 L215.9 1128.8 L216.0 1130.3 L216.1 1131.8 L216.2 1133.3 L216.2 1134.8 L216.3 1136.3 L216.4 1137.8 L216.5 1139.4 L216.5 1140.9 L216.6 1142.4 L216.6 1143.9 L216.7 1145.4 L216.8 1146.9 L216.8 1148.4 L216.9 1149.9 L216.9 1151.4 L217.0 1152.9 L217.0 1154.5 L217.1 1156.0 L217.1 1157.5 L217.2 1159.0 L217.2 1160.5 L217.2 1162.0 L217.3 1163.5 L217.3 1165.1 L217.4 1166.6 L217.4 1168.1 L217.4 1169.6 L217.5 1171.1 L217.5 1172.6 L217.5 1174.2 L217.6 1175.7 L217.6 1177.2 L217.6 1178.7 L217.6 1180.2 L217.7 1181.8 L217.7 1183.3 L217.7 1184.8 L217.8 1186.3 L217.8 1187.8 L217.8 1189.3 L217.8 1190.8 L217.9 1192.4 L217.9 1193.9 L217.9 1195.4 L218.0 1196.9 L218.0 1198.4 L218.0 1199.9 L218.0 1201.4 L218.1 1202.9 L218.1 1204.5 L218.1 1206.0 L218.2 1207.5 L218.2 1209.0 L218.2 1210.5 L218.3 1212.0 L218.3 1213.5 L218.3 1215.0 L218.4 1216.5 L218.4 1218.0 L218.5 1219.5 L218.5 1221.0 L218.5 1222.5 L218.6 1224.0 L218.6 1225.5 L218.7 1227.0 L218.7 1228.4 L218.8 1229.9 L218.8 1231.4 L218.9 1232.9 L219.0 1234.4 L219.0 1235.9 L219.1 1237.3 L219.1 1238.8 L219.2 1240.3 L219.3 1241.8 L219.3 1243.2 L219.4 1244.7 L219.5 1246.2 L219.6 1247.7 L219.7 1249.1 L219.7 1250.6 L219.8 1252.0 L219.9 1253.5 L220.0 1255.0 L220.1 1256.4 L220.2 1257.9 L220.3 1259.4 L220.4 1260.8 L220.5 1262.3 L220.6 1263.7 L220.7 1265.2 L220.9 1266.7 L221.0 1268.1 L221.1 1269.6 L221.2 1271.1 L221.3 1272.5 L221.5 1274.0 L221.6 1275.5 L221.7 1277.0 L221.9 1278.4 L222.0 1279.9 L222.2 1281.4 L222.3 1282.9 L222.5 1284.4 L222.6 1285.9 L222.8 1287.4 L222.9 1288.9 L223.1 1290.4 L223.3 1291.9 L223.4 1293.4 L223.6 1294.9 L223.8 1296.5 L224.0 1298.0 L224.1 1299.5 L224.3 1301.1 L224.5 1302.6 L224.7 1304.2 L224.9 1305.8 L225.1 1307.3 L225.3 1308.9 L225.5 1310.5 L225.7 1312.1 L225.9 1313.7 L226.1 1315.3 L226.4 1316.9 L226.6 1318.5 L226.8 1320.2 L227.0 1321.8 L227.3 1323.4 L227.5 1325.1 L227.8 1326.7 L228.0 1328.4 L228.3 1330.0 L228.6 1331.7 L228.9 1333.3 L229.2 1334.9 L229.6 1336.5 L230.0 1338.1 L230.4 1339.7 L230.8 1341.3 L231.3 1342.8 L231.8 1344.3 L232.3 1345.7 L232.9 1347.2 L233.5 1348.6 L234.2 1349.9 L234.9 1351.3 L235.6 1352.5 L236.4 1353.8 L237.3 1354.9 L238.2 1356.0 L239.1 1357.0 L240.1 1357.9 L241.1 1358.7 L242.2 1359.3 L243.2 1359.8 L244.4 1360.1 L245.5 1360.4 L246.7 1360.5 L247.9 1360.5 L249.1 1360.3 L250.3 1360.1 L251.5 1359.8 L252.7 1359.4 L254.0 1358.9 L255.2 1358.3 L256.4 1357.7 L257.7 1357.0 L258.9 1356.2 L260.1 1355.4 L261.3 1354.6 L262.5 1353.6 L263.7 1352.7 L264.9 1351.7 L266.1 1350.6 L267.2 1349.5 L268.4 1348.4 L269.5 1347.2 L270.6 1346.0 L271.7 1344.8 L272.8 1343.6 L273.9 1342.3 L275.0 1341.0 L276.0 1339.7 L277.0 1338.4 L278.0 1337.1 L279.0 1335.7 L280.0 1334.3 L280.9 1333.0 L281.8 1331.6 L282.8 1330.2 L283.6 1328.9 L284.5 1327.5 L285.3 1326.1 L286.2 1324.8 L287.0 1323.4 L287.8 1322.0 L288.6 1320.7 L289.3 1319.3 L290.1 1317.9 L290.8 1316.5 L291.5 1315.2 L292.2 1313.8 L292.9 1312.4 L293.5 1311.1 L294.2 1309.7 L294.8 1308.3 L295.5 1306.9 L296.1 1305.6 L296.7 1304.2 L297.3 1302.8 L297.9 1301.4 L298.5 1300.1 L299.1 1298.7 L299.6 1297.3 L300.2 1295.9 L300.8 1294.6 L301.3 1293.2 L301.8 1291.8 L302.4 1290.4 L302.9 1289.0 L303.5 1287.7 L304.0 1286.3 L304.5 1284.9 L305.0 1283.5 L305.5 1282.2 L306.1 1280.8 L306.6 1279.4 L307.1 1278.0 L307.6 1276.6 L308.2 1275.3 L308.7 1273.9 L309.2 1272.5 L309.7 1271.1 L310.3 1269.7 L310.8 1268.3 L311.3 1267.0 L311.9 1265.6 L312.4 1264.2 L312.9 1262.8 L313.5 1261.4 L314.0 1260.0 L314.6 1258.7 L315.1 1257.3 L315.7 1255.9 L316.2 1254.5 L316.8 1253.1 L317.3 1251.7 L317.9 1250.3 L318.4 1249.0 L319.0 1247.6 L319.6 1246.2 L320.1 1244.8 L320.7 1243.4 L321.3 1242.0 L321.8 1240.6 L322.4 1239.2 L323.0 1237.9 L323.5 1236.5 L324.1 1235.1 L324.7 1233.7 L325.2 1232.3 L325.8 1230.9 L326.4 1229.5 L327.0 1228.1 L327.5 1226.7 L328.1 1225.3 L328.7 1224.0 L329.3 1222.6 L329.8 1221.2 L330.4 1219.8 L331.0 1218.4 L331.6 1217.0 L332.1 1215.6 L332.7 1214.2 L333.3 1212.8 L333.9 1211.4 L334.4 1210.0 L335.0 1208.6 L335.6 1207.2 L336.2 1205.8 L336.8 1204.5 L337.3 1203.1 L337.9 1201.7 L338.5 1200.3 L339.1 1198.9 L339.6 1197.5 L340.2 1196.1 L340.8 1194.7 L341.4 1193.3 L341.9 1191.9 L342.5 1190.5 L343.1 1189.1 L343.7 1187.7 L344.2 1186.3 L344.8 1184.9 L345.4 1183.5 L345.9 1182.1 L346.5 1180.7 L347.1 1179.3 L347.6 1177.9 L348.2 1176.5 L348.8 1175.1 L349.3 1173.7 L349.9 1172.3 L350.4 1170.9 L351.0 1169.5 L351.6 1168.1 L352.1 1166.7 L352.7 1165.3 L353.2 1163.9 L353.8 1162.5 L354.3 1161.1 L354.9 1159.7 L355.4 1158.3 L355.9 1156.9 L356.5 1155.5 L357.0 1154.1 L357.6 1152.7 L358.1 1151.3 L358.6 1149.9 L359.2 1148.5 L359.7 1147.1 L360.2 1145.7 L360.7 1144.3 L361.3 1142.9 L361.8 1141.5 L362.3 1140.1 L362.8 1138.7 L363.3 1137.2 L363.9 1135.8 L364.4 1134.4 L364.9 1133.0 L365.4 1131.6 L365.9 1130.2 L366.4 1128.8 L367.0 1127.4 L367.5 1126.0 L368.0 1124.6 L368.5 1123.2 L369.0 1121.8 L369.5 1120.4 L370.1 1119.0 L370.6 1117.6 L371.1 1116.2 L371.6 1114.8 L372.1 1113.4 L372.6 1112.0 L373.2 1110.6 L373.7 1109.2 L374.2 1107.8 L374.7 1106.4 L375.2 1105.0 L375.8 1103.6 L376.3 1102.2 L376.8 1100.8 L377.3 1099.4 L377.9 1098.1 L378.4 1096.7 L378.9 1095.3 L379.5 1093.9 L380.0 1092.5 L380.5 1091.1 L381.1 1089.7 L381.6 1088.3 L382.2 1086.9 L382.7 1085.6 L383.3 1084.2 L383.8 1082.8 L384.4 1081.4 L384.9 1080.0 L385.5 1078.6 L386.1 1077.3 L386.6 1075.9 L387.2 1074.5 L387.8 1073.1 L388.4 1071.8 L389.0 1070.4 L389.5 1069.0 L390.1 1067.6 L390.7 1066.3 L391.3 1064.9 L391.9 1063.5 L392.5 1062.2 L393.1 1060.8 L393.7 1059.4 L394.4 1058.1 L395.0 1056.7 L395.6 1055.4 L396.2 1054.0 L396.9 1052.7 L397.5 1051.3 L398.2 1049.9 L398.8 1048.6 L399.5 1047.2 L400.1 1045.9 L400.8 1044.5 L401.5 1043.2 L402.1 1041.9 L402.8 1040.5 L403.5 1039.2 L404.2 1037.8 L404.9 1036.5 L405.6 1035.2 L406.3 1033.8 L407.1 1032.5 L407.8 1031.2 L408.5 1029.9 L409.2 1028.5 L410.0 1027.2 L410.7 1025.9 L411.5 1024.6 L412.3 1023.3 L413.0 1021.9 L413.8 1020.6 L414.6 1019.3 L415.4 1018.0 L416.2 1016.7 L417.0 1015.4 L417.8 1014.1 L418.6 1012.8 L419.5 1011.5 L420.3 1010.2 L421.1 1008.9 L422.0 1007.6 L422.9 1006.3 L423.7 1005.0 L424.6 1003.8 L425.5 1002.5 L426.4 1001.2 L427.3 999.9 L428.2 998.7 L429.1 997.4 L430.0 996.1 L431.0 994.9 L431.9 993.6 L432.9 992.4 L433.8 991.1 L434.8 989.9 L435.8 988.7 L436.8 987.5 L437.8 986.3 L438.8 985.1 L439.8 983.9 L440.8 982.8 L441.9 981.6 L442.9 980.5 L444.0 979.4 L445.0 978.3 L446.1 977.2 L447.2 976.1 L448.3 975.1 L449.4 974.1 L450.5 973.1 L451.6 972.1 L452.7 971.1 L453.8 970.2 L455.0 969.3 L456.1 968.4 L457.3 967.6 L458.5 966.7 L459.7 965.9 L460.9 965.1 L462.1 964.4 L463.3 963.7 L464.5 963.0 L465.7 962.3 L467.0 961.7 L468.2 961.1 L469.5 960.6 L470.7 960.1 L472.0 959.6 L473.3 959.1 L474.6 958.7 L475.9 958.3 L477.2 958.0 L478.5 957.7 L479.9 957.4 L481.2 957.2 L482.6 957.1 L483.9 956.9 L485.3 956.8 L486.7 956.8 L488.1 956.8 L489.5 956.9 L490.9 956.9 L492.4 957.1 L493.8 957.2 L495.2 957.5 L496.7 957.7 L498.1 958.0 L499.6 958.3 L501.0 958.7 L502.5 959.1 L504.0 959.5 L505.4 959.9 L506.9 960.4 L508.4 960.9 L509.8 961.4 L511.3 962.0 L512.8 962.6 L514.2 963.2 L515.7 963.8 L517.1 964.5 L518.6 965.1 L520.0 965.8 L521.5 966.5 L522.9 967.2 L524.3 967.9 L525.8 968.7 L527.2 969.4 L528.6 970.2 L530.0 970.9 L531.4 971.7 L532.7 972.5 L534.1 973.3 L535.4 974.0 L536.8 974.8 L538.1 975.6 L539.4 976.4 L540.7 977.2 L542.0 978.0 L543.3 978.9 L544.6 979.7 L545.9 980.5 L547.1 981.3 L548.4 982.2 L549.6 983.0 L550.9 983.8 L552.1 984.7 L553.3 985.5 L554.6 986.4 L555.8 987.2 L557.0 988.1 L558.2 988.9 L559.4 989.8 L560.5 990.7 L561.7 991.5 L562.9 992.4 L564.1 993.3 L565.2 994.2 L566.4 995.0 L567.5 995.9 L568.7 996.8 L569.8 997.7 L571.0 998.6 L572.1 999.5 L573.3 1000.4 L574.4 1001.3 L575.5 1002.2 L576.7 1003.1 L577.8 1004.0 L578.9 1004.9 L580.0 1005.8 L581.2 1006.7 L582.3 1007.7 L583.4 1008.6 L584.5 1009.5 L585.7 1010.4 L586.8 1011.3 L587.9 1012.3 L589.0 1013.2 L590.2 1014.1 L591.3 1015.0 L592.4 1016.0 L593.6 1016.9 L594.7 1017.8 L595.8 1018.8 L597.0 1019.7 L598.1 1020.6 L599.2 1021.6 L600.4 1022.5 L601.5 1023.4 L602.7 1024.4 L603.8 1025.3 L605.0 1026.2 L606.2 1027.2 L607.3 1028.1 L608.5 1029.0 L609.6 1030.0 L610.8 1030.9 L612.0 1031.8 L613.1 1032.8 L614.3 1033.7 L615.5 1034.6 L616.7 1035.5 L617.9 1036.5 L619.1 1037.4 L620.3 1038.3 L621.4 1039.2 L622.6 1040.1 L623.8 1041.0 L625.0 1041.9 L626.3 1042.8 L627.5 1043.7 L628.7 1044.6 L629.9 1045.5 L631.1 1046.4 L632.3 1047.3 L633.6 1048.2 L634.8 1049.1 L636.0 1050.0 L637.3 1050.8 L638.5 1051.7 L639.8 1052.6 L641.0 1053.4 L642.3 1054.3 L643.5 1055.1 L644.8 1056.0 L646.1 1056.8 L647.4 1057.7 L648.6 1058.5 L649.9 1059.3 L651.2 1060.1 L652.5 1061.0 L653.8 1061.8 L655.1 1062.6 L656.4 1063.4 L657.7 1064.2 L659.0 1065.0 L660.3 1065.8 L661.6 1066.5 L662.9 1067.3 L664.2 1068.1 L665.5 1068.8 L666.9 1069.6 L668.2 1070.3 L669.5 1071.1 L670.9 1071.8 L672.2 1072.6 L673.5 1073.3 L674.9 1074.0 L676.2 1074.7 L677.6 1075.4 L678.9 1076.1 L680.3 1076.8 L681.6 1077.5 L683.0 1078.2 L684.4 1078.9 L685.7 1079.5 L687.1 1080.2 L688.5 1080.8 L689.8 1081.5 L691.2 1082.1 L692.6 1082.8 L694.0 1083.4 L695.4 1084.0 L696.8 1084.6 L698.1 1085.2 L699.5 1085.8 L700.9 1086.4 L702.3 1087.0 L703.7 1087.6 L705.1 1088.1 L706.5 1088.7 L707.9 1089.3 L709.3 1089.8 L710.8 1090.3 L712.2 1090.9 L713.6 1091.4 L715.0 1091.9 L716.4 1092.4 L717.8 1092.9 L719.3 1093.4 L720.7 1093.9 L722.1 1094.3 L723.5 1094.8 L725.0 1095.3 L726.4 1095.7 L727.8 1096.1 L729.3 1096.6 L730.7 1097.0 L732.1 1097.4 L733.6 1097.8 L735.0 1098.2 L736.5 1098.6 L737.9 1099.0 L739.4 1099.3 L740.8 1099.7 L742.3 1100.0 L743.7 1100.4 L745.2 1100.7 L746.6 1101.0 L748.1 1101.3 L749.5 1101.6 L751.0 1101.9 L752.4 1102.2 L753.9 1102.5 L755.3 1102.7 L756.8 1103.0 L758.3 1103.2 L759.7 1103.5 L761.2 1103.7 L762.7 1103.9 L764.1 1104.1 L765.6 1104.3 L767.1 1104.5 L768.5 1104.7 L770.0 1104.8 L771.5 1105.0 L772.9 1105.1 L774.4 1105.3 L775.9 1105.4 L777.3 1105.5 L778.8 1105.6 L780.3 1105.7 L781.8 1105.8 L783.2 1105.9 L784.7 1106.0 L786.2 1106.1 L787.7 1106.1 L789.2 1106.2 L790.6 1106.3 L792.1 1106.3 L793.6 1106.3 L795.1 1106.4 L796.6 1106.4 L798.0 1106.4 L799.5 1106.4 L801.0 1106.4 L802.5 1106.4 L804.0 1106.4 L805.5 1106.4 L807.0 1106.4 L808.4 1106.4 L809.9 1106.3 L811.4 1106.3 L812.9 1106.2 L814.4 1106.2 L815.9 1106.1 L817.4 1106.1 L818.9 1106.0 L820.4 1105.9 L821.8 1105.9 L823.3 1105.8 L824.8 1105.7 L826.3 1105.6 L827.8 1105.5 L829.3 1105.4 L830.8 1105.3 L832.3 1105.2 L833.8 1105.1 L835.3 1105.0 L836.8 1104.9 L838.3 1104.8 L839.8 1104.6 L841.3 1104.5 L842.8 1104.4 L844.3 1104.3 L845.8 1104.1 L847.3 1104.0 L848.8 1103.8 L850.3 1103.7 L851.8 1103.6 L853.3 1103.4 L854.8 1103.3 L856.3 1103.1 L857.8 1103.0 L859.3 1102.8 L860.8 1102.6 L862.3 1102.5 L863.8 1102.3 L865.3 1102.2 L866.8 1102.0 L868.3 1101.8 L869.8 1101.7 L871.3 1101.5 L872.8 1101.4 L874.3 1101.2 L875.8 1101.0 L877.3 1100.9 L878.8 1100.7 L880.3 1100.5 L881.8 1100.4 L883.3 1100.2 L884.8 1100.0 L886.3 1099.9 L887.8 1099.7 L889.3 1099.5 L890.8 1099.4 L892.3 1099.2 L893.8 1099.1 L895.3 1098.9 L896.8 1098.7 L898.3 1098.6 L899.8 1098.4 L901.3 1098.3 L902.8 1098.1 L904.3 1098.0 L905.8 1097.8 L907.3 1097.7 L908.8 1097.5 L910.3 1097.4 L911.8 1097.3 L913.3 1097.1 L914.8 1097.0 L916.3 1096.8 L917.8 1096.7 L919.3 1096.6 L920.8 1096.4 L922.3 1096.3 L923.8 1096.2 L925.3 1096.0 L926.8 1095.9 L928.3 1095.8 L929.8 1095.6 L931.2 1095.5 L932.7 1095.4 L934.2 1095.3 L935.7 1095.2 L937.2 1095.0 L938.7 1094.9 L940.2 1094.8 L941.7 1094.7 L943.2 1094.6 L944.7 1094.5 L946.2 1094.4 L947.7 1094.2 L949.2 1094.1 L950.7 1094.0 L952.2 1093.9 L953.7 1093.8 L955.2 1093.7 L956.7 1093.6 L958.2 1093.5 L959.7 1093.4 L961.2 1093.3 L962.7 1093.2 L964.2 1093.1 L965.7 1093.0 L967.2 1092.9 L968.7 1092.9 L970.2 1092.8 L971.7 1092.7 L973.2 1092.6 L974.7 1092.5 L976.2 1092.4 L977.7 1092.3 L979.2 1092.3 L980.7 1092.2 L982.1 1092.1 L983.6 1092.0 L985.1 1092.0 L986.6 1091.9 L988.1 1091.8 L989.6 1091.7 L991.1 1091.7 L992.6 1091.6 L994.1 1091.5 L995.6 1091.5 L997.1 1091.4 L998.6 1091.3 L1000.1 1091.3 L1001.6 1091.2 L1003.1 1091.1 L1004.6 1091.1 L1006.1 1091.0 L1007.6 1091.0 L1009.1 1090.9 L1010.6 1090.9 L1012.1 1090.8 L1013.6 1090.8 L1015.1 1090.7 L1016.6 1090.7 L1018.1 1090.6 L1019.6 1090.6 L1021.0 1090.5 L1022.5 1090.5 L1024.0 1090.4 L1025.5 1090.4 L1027.0 1090.3 L1028.5 1090.3 L1030.0 1090.3 L1031.5 1090.2 L1033.0 1090.2 L1034.5 1090.2 L1036.0 1090.1 L1037.5 1090.1 L1039.0 1090.1 L1040.5 1090.0 L1042.0 1090.0 L1043.5 1090.0 L1045.0 1089.9 L1046.5 1089.9 L1048.0 1089.9 L1049.5 1089.9 L1051.0 1089.8 L1052.5 1089.8 L1054.0 1089.8 L1055.5 1089.8 L1057.0 1089.8 L1058.5 1089.8 L1060.0 1089.7 L1061.5 1089.7 L1063.0 1089.7 L1064.5 1089.7 L1066.0 1089.7 L1067.5 1089.7 L1069.0 1089.7 L1070.5 1089.7 L1072.0 1089.7 L1073.4 1089.7 L1074.9 1089.7 L1076.4 1089.7 L1077.9 1089.7 L1079.4 1089.7 L1080.9 1089.7 L1082.4 1089.7 L1083.9 1089.7 L1085.4 1089.7 L1086.9 1089.7 L1088.4 1089.7 L1089.9 1089.7 L1091.4 1089.7 L1092.9 1089.7 L1094.4 1089.7 L1095.9 1089.7 L1097.4 1089.7 L1098.9 1089.7 L1100.4 1089.8 L1101.9 1089.8 L1103.4 1089.8 L1104.9 1089.8 L1106.4 1089.8 L1107.9 1089.8 L1109.4 1089.9 L1110.9 1089.9 L1112.4 1089.9 L1113.9 1089.9 L1115.4 1089.9 L1116.9 1090.0 L1118.4 1090.0 L1119.9 1090.0 L1121.4 1090.0 L1122.9 1090.1 L1124.4 1090.1 L1125.9 1090.1 L1127.4 1090.1 L1128.9 1090.2 L1130.4 1090.2 L1131.9 1090.2 L1133.4 1090.3 L1134.9 1090.3 L1136.4 1090.3 L1137.9 1090.3 L1139.4 1090.4 L1140.9 1090.4 L1142.4 1090.4 L1143.9 1090.5 L1145.4 1090.5 L1146.9 1090.5 L1148.4 1090.6 L1149.9 1090.6 L1151.4 1090.6 L1152.9 1090.7 L1154.4 1090.7 L1155.9 1090.8 L1157.4 1090.8 L1159.0 1090.8 L1160.5 1090.9 L1162.0 1090.9 L1163.5 1090.9 L1165.0 1091.0 L1166.5 1091.0 L1168.0 1091.1 L1169.5 1091.1 L1171.0 1091.1 L1172.5 1091.2 L1174.0 1091.2 L1175.5 1091.3 L1177.0 1091.3 L1178.5 1091.3 L1180.0 1091.4 L1181.5 1091.4 L1183.0 1091.5 L1184.5 1091.5 L1186.0 1091.5 L1187.5 1091.6 L1189.0 1091.6 L1190.5 1091.7 L1192.0 1091.7 L1193.5 1091.7 L1195.0 1091.8 L1196.5 1091.8 L1198.0 1091.9 L1199.5 1091.9 L1201.0 1091.9 L1202.5 1092.0 L1204.0 1092.0 L1205.5 1092.1 L1207.0 1092.1 L1208.5 1092.1 L1210.0 1092.2 L1211.5 1092.2 L1213.0 1092.3 L1214.5 1092.3 L1216.0 1092.3 L1217.5 1092.4 L1219.0 1092.4 L1220.5 1092.5 L1222.0 1092.5 L1223.5 1092.5 L1225.0 1092.6 L1226.5 1092.6 L1228.0 1092.6 L1229.5 1092.7 L1231.0 1092.7 L1232.5 1092.7 L1234.0 1092.8 L1235.5 1092.8 L1237.0 1092.9 L1238.5 1092.9 L1240.0 1092.9 L1241.5 1093.0 L1243.0 1093.0 L1244.5 1093.0 L1246.1 1093.0 L1247.6 1093.1 L1249.1 1093.1 L1250.6 1093.1 L1252.1 1093.2 L1253.6 1093.2 L1255.1 1093.2 L1256.6 1093.3 L1258.1 1093.3 L1259.6 1093.3 L1261.1 1093.3 L1262.6 1093.4 L1264.1 1093.4 L1265.6 1093.4 L1267.1 1093.4 L1268.6 1093.5 L1270.1 1093.5 L1271.6 1093.5 L1273.1 1093.5 L1274.6 1093.6 L1276.1 1093.6 L1277.6 1093.6 L1279.1 1093.6 L1280.6 1093.6 L1282.1 1093.7 L1283.6 1093.7 L1285.1 1093.7 L1286.6 1093.7 L1288.1 1093.7 L1289.6 1093.7 L1291.1 1093.8 L1292.6 1093.8 L1294.1 1093.8 L1295.6 1093.8 L1297.1 1093.8 L1298.6 1093.8 L1300.1 1093.9 L1301.6 1093.9 L1303.1 1093.9 L1304.6 1093.9 L1306.1 1093.9 L1307.6 1093.9 L1309.1 1093.9 L1310.6 1094.0 L1312.1 1094.0 L1313.6 1094.0 L1315.1 1094.0 L1316.6 1094.0 L1318.1 1094.0 L1319.6 1094.0 L1321.1 1094.0 L1322.6 1094.0 L1324.1 1094.1 L1325.6 1094.1 L1327.1 1094.1 L1328.6 1094.1 L1330.1 1094.1 L1331.6 1094.1 L1333.1 1094.1 L1334.6 1094.1 L1336.1 1094.1 L1337.6 1094.1 L1339.1 1094.1 L1340.6 1094.1 L1342.1 1094.1 L1343.6 1094.1 L1345.1 1094.2 L1346.6 1094.2 L1348.1 1094.2 L1349.6 1094.2 L1351.1 1094.2 L1352.6 1094.2 L1354.1 1094.2 L1355.6 1094.2 L1357.1 1094.2 L1358.6 1094.2 L1360.1 1094.2 L1361.6 1094.2 L1363.1 1094.2 L1364.6 1094.2 L1366.1 1094.2 L1367.6 1094.2 L1369.1 1094.2 L1370.6 1094.2 L1372.1 1094.2 L1373.6 1094.2 L1375.1 1094.2 L1376.6 1094.2 L1378.1 1094.2 L1379.6 1094.2 L1381.1 1094.2 L1382.6 1094.2 L1384.1 1094.2 L1385.6 1094.2 L1387.1 1094.2 L1388.6 1094.2 L1390.1 1094.2 L1391.6 1094.2 L1393.1 1094.2 L1394.6 1094.2 L1396.1 1094.2 L1397.6 1094.3 L1399.1 1094.3 L1400.6 1094.3 L1402.1 1094.3 L1403.6 1094.3 L1405.1 1094.3 L1406.6 1094.3 L1408.1 1094.3 L1409.6 1094.3 L1411.1 1094.3 L1412.6 1094.3 L1414.1 1094.3 L1415.6 1094.3 L1417.1 1094.3 L1418.6 1094.3 L1420.1 1094.3 L1421.6 1094.3 L1423.1 1094.3 L1424.6 1094.3 L1426.1 1094.3 L1427.6 1094.3 L1429.1 1094.3 L1430.6 1094.3 L1432.1 1094.3 L1433.6 1094.3 L1435.1 1094.3 L1436.6 1094.3 L1438.1 1094.3 L1439.6 1094.3 L1441.1 1094.3 L1442.6 1094.3 L1444.1 1094.3 L1445.6 1094.3 L1447.1 1094.3 L1448.6 1094.3 L1450.1 1094.3 L1451.6 1094.3 L1453.1 1094.3 L1454.6 1094.3 L1456.1 1094.3 L1457.6 1094.3 L1459.1 1094.3 L1460.6 1094.3 L1462.1 1094.3 L1463.6 1094.3 L1465.1 1094.3 L1466.6 1094.3 L1468.1 1094.3 L1469.6 1094.3 L1471.1 1094.3 L1472.6 1094.3 L1474.1 1094.3 L1475.6 1094.3 L1477.1 1094.3 L1478.6 1094.3 L1480.1 1094.3 L1481.6 1094.3 L1483.1 1094.3 L1484.6 1094.3 L1486.1 1094.3 L1487.6 1094.3 L1489.1 1094.3 L1490.6 1094.3 L1492.1 1094.3 L1493.6 1094.3 L1495.2 1094.3 L1496.7 1094.3 L1498.2 1094.3 L1499.7 1094.3 L1501.2 1094.3 L1502.7 1094.3 L1504.2 1094.3 L1505.7 1094.3 L1507.2 1094.3 L1508.7 1094.3 L1510.2 1094.3 L1511.7 1094.3 L1513.2 1094.3 L1514.7 1094.3 L1516.2 1094.3 L1517.7 1094.3 L1519.2 1094.3 L1520.7 1094.3 L1522.2 1094.3 L1523.7 1094.3 L1525.2 1094.3 L1526.7 1094.3 L1528.2 1094.3 L1529.7 1094.3 L1531.2 1094.3 L1532.7 1094.3 L1534.2 1094.3 L1535.7 1094.3 L1537.2 1094.3 L1538.7 1094.3 L1540.2 1094.3 L1541.7 1094.3 L1543.2 1094.3 L1544.7 1094.3 L1546.2 1094.3 L1547.7 1094.3 L1549.2 1094.3 L1550.7 1094.3 L1552.2 1094.3 L1553.7 1094.3 L1555.2 1094.3 L1556.7 1094.3 L1558.2 1094.3 L1559.7 1094.3 L1561.2 1094.3 L1562.7 1094.3 L1564.2 1094.3 L1565.7 1094.3 L1567.2 1094.3 L1568.7 1094.3 L1570.2 1094.3 L1571.7 1094.3 L1573.2 1094.3 L1574.7 1094.3 L1576.2 1094.3 L1577.7 1094.3 L1579.2 1094.3 L1580.7 1094.3 L1582.2 1094.3 L1583.7 1094.3 L1585.2 1094.3 L1586.7 1094.3 L1588.2 1094.3 L1589.7 1094.3 L1591.2 1094.3 L1592.7 1094.3 L1594.2 1094.3 L1595.7 1094.3 L1597.2 1094.3 L1598.7 1094.3 L1600.2 1094.3 L1601.7 1094.3 L1603.2 1094.3 L1604.7 1094.3 L1606.2 1094.3 L1607.7 1094.3 L1609.2 1094.3 L1610.7 1094.3 L1612.2 1094.3 L1613.7 1094.3 L1615.2 1094.3 L1616.7 1094.3 L1618.2 1094.3 L1619.7 1094.3 L1621.2 1094.3 L1622.7 1094.3 L1624.2 1094.3 L1625.7 1094.3 L1627.2 1094.3 L1628.7 1094.3 L1630.2 1094.3 L1631.7 1094.3 L1633.2 1094.3 L1634.7 1094.3 L1636.2 1094.3 L1637.7 1094.3 L1639.2 1094.3 L1640.7 1094.3 L1642.2 1094.3 L1643.7 1094.3 L1645.2 1094.3 L1646.7 1094.3 L1648.2 1094.3 L1649.7 1094.3 L1651.2 1094.3 L1652.7 1094.3 L1654.2 1094.3 L1655.7 1094.3 L1657.2 1094.3 L1658.7 1094.3 L1660.2 1094.3 L1661.7 1094.3 L1663.2 1094.3 L1664.7 1094.3 L1666.2 1094.3 L1667.7 1094.3 L1669.2 1094.3 L1670.7 1094.3 L1672.2 1094.3 L1673.7 1094.3 L1675.2 1094.3 L1676.7 1094.3 L1678.2 1094.3 L1679.7 1094.3 L1681.2 1094.3 L1682.7 1094.3 L1684.2 1094.3 L1685.7 1094.3 L1687.2 1094.3 L1688.7 1094.3 L1690.2 1094.3 L1691.7 1094.3 L1693.2 1094.3 L1694.7 1094.3 L1696.2 1094.3 L1697.7 1094.3 L1699.2 1094.3 L1700.7 1094.3 L1702.2 1094.3 L1703.7 1094.3 L1705.2 1094.3 L1706.8 1094.3 L1708.3 1094.3 L1709.8 1094.3 L1711.3 1094.3 L1712.8 1094.3 L1714.3 1094.3 L1715.8 1094.3 L1717.3 1094.3 L1718.8 1094.3 L1720.3 1094.3 L1721.8 1094.3 L1723.3 1094.3 L1724.8 1094.3 L1726.3 1094.3 L1727.8 1094.3 L1729.3 1094.3 L1730.8 1094.3 L1732.3 1094.3 L1733.8 1094.3 L1735.3 1094.3 L1736.8 1094.3 L1738.3 1094.3 L1739.8 1094.3 L1741.3 1094.3 L1742.8 1094.3 L1744.3 1094.3 L1745.8 1094.3 L1747.3 1094.3 L1748.8 1094.3 L1750.3 1094.3 L1751.8 1094.3 L1753.3 1094.3 L1754.8 1094.3 L1756.3 1094.3 L1757.8 1094.3 L1759.3 1094.3 L1760.8 1094.3 L1762.3 1094.3 L1763.8 1094.3 L1765.3 1094.3 L1766.8 1094.3 L1768.3 1094.3 L1769.8 1094.3 L1771.3 1094.3 L1772.8 1094.3 L1774.3 1094.3 L1775.8 1094.3 L1777.3 1094.3 L1778.8 1094.3 L1780.3 1094.3 L1781.8 1094.3 L1783.3 1094.3 L1784.8 1094.3 L1786.3 1094.3 L1787.8 1094.3 L1789.3 1094.3 L1790.8 1094.3 L1792.3 1094.3 L1793.8 1094.3 L1795.3 1094.3 L1796.8 1094.3 L1798.3 1094.3 L1799.8 1094.3 L1801.3 1094.3 L1802.8 1094.3 L1804.3 1094.3 L1805.8 1094.3 L1807.3 1094.3 L1808.8 1094.3 L1810.3 1094.3 L1811.8 1094.3 L1813.3 1094.3 L1814.8 1094.3 L1816.3 1094.3 L1817.8 1094.3 L1819.3 1094.3 L1820.8 1094.3 L1822.3 1094.3 L1823.8 1094.3 L1825.3 1094.3 L1826.8 1094.3 L1828.3 1094.3 L1829.8 1094.3 L1831.3 1094.3 L1832.8 1094.3 L1834.3 1094.3 L1835.8 1094.3 L1837.3 1094.3 L1838.8 1094.3 L1840.3 1094.3 L1841.8 1094.3 L1843.3 1094.3 L1844.8 1094.3 L1846.3 1094.3 L1847.8 1094.3 L1849.3 1094.3 L1850.8 1094.3 L1852.3 1094.3 L1853.8 1094.3 L1855.3 1094.3 L1856.8 1094.3 L1858.3 1094.3 L1859.8 1094.3 L1861.3 1094.3 L1862.8 1094.3 L1864.3 1094.3 L1865.8 1094.3 L1867.3 1094.3 L1868.8 1094.3 L1870.3 1094.3 L1871.8 1094.3 L1873.3 1094.3 L1874.8 1094.3 L1876.3 1094.3 L1877.8 1094.3 L1879.3 1094.3 L1880.9 1094.3 L1882.4 1094.3 L1883.9 1094.3 L1885.4 1094.3 L1886.9 1094.3 L1888.4 1094.3 L1889.9 1094.3 L1891.4 1094.3 L1892.9 1094.3 L1894.4 1094.3 L1895.9 1094.3 L1897.4 1094.3 L1898.9 1094.3 L1900.4 1094.3 L1901.9 1094.3 L1903.4 1094.3 L1904.9 1094.3 L1906.4 1094.3 L1907.9 1094.3 L1909.4 1094.3 L1910.9 1094.3 L1912.4 1094.3 L1913.9 1094.3 L1915.4 1094.3 L1916.9 1094.3 L1918.4 1094.3 L1919.9 1094.3 L1921.4 1094.3 L1922.9 1094.3 L1924.4 1094.3 L1925.9 1094.3 L1927.4 1094.3 L1928.9 1094.3 L1930.4 1094.3 L1931.9 1094.3 L1933.4 1094.3 L1934.9 1094.3 L1936.4 1094.3 L1937.9 1094.3 L1939.4 1094.3 L1940.9 1094.3 L1942.4 1094.3 L1943.9 1094.3 L1945.4 1094.3 L1946.9 1094.3 L1948.4 1094.3 L1949.9 1094.3 L1951.4 1094.3 L1952.9 1094.3 L1954.4 1094.3 L1955.9 1094.3 L1957.4 1094.3 L1958.9 1094.3 L1960.4 1094.3 L1961.9 1094.3 L1963.4 1094.3 L1964.9 1094.3 L1966.4 1094.3 L1967.9 1094.3 L1969.4 1094.3 L1970.9 1094.3 L1972.4 1094.3 L1973.9 1094.3 L1975.4 1094.3 L1976.9 1094.3 L1978.4 1094.3 L1979.9 1094.3 L1981.4 1094.3 L1982.9 1094.3 L1984.4 1094.3 L1985.9 1094.3 L1987.4 1094.3 L1988.9 1094.3 L1990.4 1094.3 L1991.9 1094.3 L1993.4 1094.3 L1994.9 1094.3 L1996.4 1094.3 L1997.9 1094.3 L1999.4 1094.3 L2000.9 1094.3 L2002.4 1094.3 L2003.9 1094.3 L2005.4 1094.3 L2006.9 1094.3 L2008.4 1094.3 L2009.9 1094.3 L2011.4 1094.3 L2012.9 1094.3 L2014.4 1094.3 L2015.9 1094.3 L2017.4 1094.3 L2018.9 1094.3 L2020.4 1094.3 L2021.9 1094.3 L2023.4 1094.3 L2024.9 1094.3 L2026.4 1094.3 L2027.9 1094.3 L2029.4 1094.3 L2030.9 1094.3 L2032.4 1094.3 L2033.9 1094.3 L2035.4 1094.3 L2036.9 1094.3 L2038.4 1094.3 L2039.9 1094.3 L2041.4 1094.3 L2042.9 1094.3 L2044.4 1094.3 L2045.9 1094.3 L2047.4 1094.3 L2048.9 1094.3 L2050.4 1094.3 L2051.9 1094.3 L2053.4 1094.3 L2054.9 1094.3 L2056.4 1094.3 L2057.9 1094.3 L2059.4 1094.3 L2060.9 1094.3 L2062.4 1094.3 L2064.0 1094.3 L2065.5 1094.3 L2067.0 1094.3 L2068.5 1094.3 L2070.0 1094.3 L2071.5 1094.3 L2073.0 1094.3 L2074.5 1094.3 L2076.0 1094.3 L2077.5 1094.3 L2079.0 1094.3 L2080.5 1094.3 L2082.0 1094.3 L2083.5 1094.3 L2085.0 1094.3 L2086.5 1094.3 L2088.0 1094.3 L2089.5 1094.3 L2091.0 1094.3 L2092.5 1094.3 L2094.0 1094.3 L2095.5 1094.3 L2097.0 1094.3 L2098.5 1094.3 L2100.0 1094.3 L2101.5 1094.3 L2103.0 1094.3 L2104.5 1094.3 L2106.0 1094.3 L2107.5 1094.3 L2109.0 1094.3 L2110.5 1094.3 L2112.0 1094.3 L2113.5 1094.3 L2115.0 1094.3 L2116.5 1094.3 L2118.0 1094.3 L2119.5 1094.3 L2121.0 1094.3 L2122.5 1094.3 L2124.0 1094.3 L2125.5 1094.3 L2127.0 1094.3 L2128.5 1094.3 L2130.0 1094.3 L2131.5 1094.3 L2133.0 1094.3 L2134.5 1094.3 L2136.0 1094.3 L2137.5 1094.3 L2139.0 1094.3 L2140.5 1094.3 L2142.0 1094.3 L2143.5 1094.3 L2145.0 1094.3 L2146.5 1094.3 L2148.0 1094.3 L2149.5 1094.3 L2151.0 1094.3 L2152.5 1094.3 L2154.0 1094.3 L2155.5 1094.3 L2157.0 1094.3 L2158.5 1094.3 L2160.0 1094.3 L2161.5 1094.3 L2163.0 1094.3 L2164.5 1094.3 L2166.0 1094.3 L2167.5 1094.3 L2169.0 1094.3 L2170.5 1094.3 L2172.0 1094.3 L2173.5 1094.3 L2175.0 1094.3 L2176.5 1094.3 L2178.0 1094.3" fill="none" stroke="#7E2F8E" stroke-width="13.2" stroke-linejoin="round" shape-rendering="crispEdges" stroke-linecap="butt"/>
<path d="M213.0 1094.2 L217.0 1095.0 L221.0 1094.6 L225.0 1095.2 L229.0 1095.2 L233.0 1093.8 L237.0 1093.6 L241.0 1095.8 L245.0 1094.3 L249.0 1094.2 L253.0 1096.2 L257.0 1094.8 L261.0 1095.8 L265.0 1094.8 L269.0 1095.3 L273.0 1094.0 L277.0 1095.3 L281.0 1095.9 L285.0 1095.0 L289.0 1095.5 L293.0 1095.3 L297.0 1093.8 L301.0 1095.6 L305.0 1095.1 L309.0 1094.4 L313.0 1093.7 L317.0 1095.9 L321.0 1094.8 L325.0 1095.5 L329.0 1095.9 L333.0 1095.5 L337.0 1096.0 L341.0 1094.6 L345.0 1095.7 L349.0 1094.8 L353.0 1096.0 L357.0 1095.9 L361.0 1093.9 L365.0 1094.0 L369.0 1094.2 L373.0 1096.1 L377.0 1094.7 L381.0 1095.2 L385.0 1094.4 L389.0 1094.9 L393.0 1094.6 L397.0 1094.5 L401.0 1095.1 L405.0 1095.1 L409.0 1096.0 L413.0 1095.4 L417.0 1096.0 L421.0 1095.8 L425.0 1096.2 L429.0 1095.3 L433.0 1094.0 L437.0 1095.8 L441.0 1096.1 L445.0 1096.0 L449.0 1095.1 L453.0 1095.5 L457.0 1094.1 L461.0 1095.8 L465.0 1095.1 L469.0 1094.3 L473.0 1093.8 L477.0 1095.8 L481.0 1096.2 L485.0 1093.8 L489.0 1095.7 L493.0 1094.7 L497.0 1094.0 L501.0 1094.4 L505.0 1095.6 L509.0 1095.9 L513.0 1093.7 L517.0 1095.2 L521.0 1093.7 L525.0 1095.5 L529.0 1094.5 L533.0 1095.9 L537.0 1096.1 L541.0 1094.9 L545.0 1096.2 L549.0 1094.4 L553.0 1093.8 L557.0 1095.2 L561.0 1093.7 L565.0 1094.1 L569.0 1094.7 L573.0 1095.2 L577.0 1094.0 L581.0 1093.7 L585.0 1095.9 L589.0 1094.4 L593.0 1096.1 L597.0 1095.9 L601.0 1094.6 L605.0 1094.8 L609.0 1095.0 L613.0 1095.3 L617.0 1095.1 L621.0 1095.1 L625.0 1095.2 L629.0 1096.0 L633.0 1094.9 L637.0 1094.7 L641.0 1095.5 L645.0 1094.2 L649.0 1094.4 L653.0 1096.1 L657.0 1095.0 L661.0 1095.0 L665.0 1093.6 L669.0 1094.7 L673.0 1095.1 L677.0 1093.7 L681.0 1095.2 L685.0 1095.2 L689.0 1093.8 L693.0 1095.2 L697.0 1094.8 L701.0 1095.4 L705.0 1094.5 L709.0 1095.4 L713.0 1095.5 L717.0 1093.7 L721.0 1093.8 L725.0 1095.4 L729.0 1096.1 L733.0 1094.3 L737.0 1094.8 L741.0 1095.1 L745.0 1094.4 L749.0 1094.5 L753.0 1094.4 L757.0 1094.6 L761.0 1095.1 L765.0 1094.4 L769.0 1094.6 L773.0 1095.6 L777.0 1093.7 L781.0 1095.1 L785.0 1095.5 L789.0 1094.4 L793.0 1094.2 L797.0 1095.7 L801.0 1094.2 L805.0 1094.1 L809.0 1094.7 L813.0 1095.4 L817.0 1093.9 L821.0 1094.4 L825.0 1094.5 L829.0 1095.8 L833.0 1094.7 L837.0 1095.8 L841.0 1094.0 L845.0 1094.5 L849.0 1095.3 L853.0 1095.9 L857.0 1094.8 L861.0 1094.2 L865.0 1093.9 L869.0 1095.0 L873.0 1094.1 L877.0 1095.7 L881.0 1095.8 L885.0 1094.1 L889.0 1094.3 L893.0 1095.7 L897.0 1095.3 L901.0 1095.7 L905.0 1094.5 L909.0 1093.9 L913.0 1094.4 L917.0 1095.7 L921.0 1094.3 L925.0 1094.5 L929.0 1094.7 L933.0 1094.7 L937.0 1094.7 L941.0 1096.0 L945.0 1094.0 L949.0 1093.6 L953.0 1096.1 L957.0 1095.9 L961.0 1096.2 L965.0 1094.7 L969.0 1096.1 L973.0 1096.0 L977.0 1094.2 L981.0 1095.5 L985.0 1095.8 L989.0 1095.3 L993.0 1094.9 L997.0 1094.4 L1001.0 1094.5 L1005.0 1094.2 L1009.0 1093.8 L1013.0 1095.1 L1017.0 1094.3 L1021.0 1095.7 L1025.0 1093.7 L1029.0 1095.9 L1033.0 1095.4 L1037.0 1096.0 L1041.0 1095.9 L1045.0 1095.9 L1049.0 1095.1 L1053.0 1093.6 L1057.0 1095.5 L1061.0 1094.0 L1065.0 1094.4 L1069.0 1095.3 L1073.0 1095.0 L1077.0 1094.7 L1081.0 1096.0 L1085.0 1095.2 L1089.0 1094.5 L1093.0 1094.3 L1097.0 1095.8 L1101.0 1094.8 L1105.0 1095.6 L1109.0 1094.5 L1113.0 1094.1 L1117.0 1095.0 L1121.0 1095.7 L1125.0 1094.0 L1129.0 1095.7 L1133.0 1096.0 L1137.0 1095.7 L1141.0 1095.7 L1145.0 1093.6 L1149.0 1095.2 L1153.0 1095.8 L1157.0 1093.7 L1161.0 1094.3 L1165.0 1094.3 L1169.0 1095.0 L1173.0 1094.7 L1177.0 1094.8 L1181.0 1095.6 L1185.0 1093.6 L1189.0 1093.7 L1193.0 1093.9 L1197.0 1093.9 L1201.0 1093.8 L1205.0 1096.1 L1209.0 1095.8 L1213.0 1093.8 L1217.0 1094.9 L1221.0 1094.4 L1225.0 1094.4 L1229.0 1094.5 L1233.0 1095.3 L1237.0 1095.1 L1241.0 1094.5 L1245.0 1094.1 L1249.0 1094.5 L1253.0 1093.9 L1257.0 1095.0 L1261.0 1095.5 L1265.0 1094.6 L1269.0 1093.8 L1273.0 1094.1 L1277.0 1094.6 L1281.0 1095.2 L1285.0 1095.6 L1289.0 1094.6 L1293.0 1095.7 L1297.0 1095.2 L1301.0 1094.7 L1305.0 1094.6 L1309.0 1094.9 L1313.0 1095.4 L1317.0 1094.7 L1321.0 1095.4 L1325.0 1094.8 L1329.0 1094.2 L1333.0 1095.0 L1337.0 1095.4 L1341.0 1093.8 L1345.0 1094.7 L1349.0 1094.7 L1353.0 1095.9 L1357.0 1096.0 L1361.0 1094.6 L1365.0 1095.9 L1369.0 1095.7 L1373.0 1094.3 L1377.0 1094.8 L1381.0 1093.9 L1385.0 1095.7 L1389.0 1095.3 L1393.0 1095.9 L1397.0 1095.7 L1401.0 1095.3 L1405.0 1095.5 L1409.0 1095.1 L1413.0 1093.9 L1417.0 1095.1 L1421.0 1093.6 L1425.0 1094.0 L1429.0 1095.6 L1433.0 1093.7 L1437.0 1093.8 L1441.0 1093.9 L1445.0 1095.9 L1449.0 1094.1 L1453.0 1093.7 L1457.0 1095.8 L1461.0 1093.9 L1465.0 1095.8 L1469.0 1095.4 L1473.0 1095.8 L1477.0 1096.1 L1481.0 1095.1 L1485.0 1095.7 L1489.0 1093.7 L1493.0 1095.6 L1497.0 1094.9 L1501.0 1095.5 L1505.0 1093.9 L1509.0 1095.5 L1513.0 1096.0 L1517.0 1093.8 L1521.0 1094.4 L1525.0 1095.1 L1529.0 1095.8 L1533.0 1094.2 L1537.0 1094.1 L1541.0 1094.2 L1545.0 1095.2 L1549.0 1095.6 L1553.0 1094.6 L1557.0 1094.6 L1561.0 1094.6 L1565.0 1094.5 L1569.0 1094.7 L1573.0 1093.8 L1577.0 1094.9 L1581.0 1096.1 L1585.0 1094.7 L1589.0 1095.5 L1593.0 1094.0 L1597.0 1095.4 L1601.0 1095.6 L1605.0 1095.4 L1609.0 1094.9 L1613.0 1094.9 L1617.0 1095.3 L1621.0 1095.9 L1625.0 1094.0 L1629.0 1093.8 L1633.0 1095.5 L1637.0 1096.0 L1641.0 1094.9 L1645.0 1094.8 L1649.0 1095.5 L1653.0 1094.1 L1657.0 1094.3 L1661.0 1094.1 L1665.0 1095.1 L1669.0 1094.4 L1673.0 1094.2 L1677.0 1095.4 L1681.0 1096.1 L1685.0 1094.4 L1689.0 1095.4 L1693.0 1094.7 L1697.0 1095.8 L1701.0 1095.1 L1705.0 1094.3 L1709.0 1094.2 L1713.0 1093.7 L1717.0 1094.8 L1721.0 1094.6 L1725.0 1094.0 L1729.0 1094.5 L1733.0 1094.4 L1737.0 1095.6 L1741.0 1094.0 L1745.0 1096.2 L1749.0 1094.8 L1753.0 1095.2 L1757.0 1094.8 L1761.0 1095.8 L1765.0 1095.7 L1769.0 1095.0 L1773.0 1094.9 L1777.0 1095.5 L1781.0 1095.8 L1785.0 1094.6 L1789.0 1095.5 L1793.0 1096.1 L1797.0 1094.8 L1801.0 1094.2 L1805.0 1094.2 L1809.0 1095.5 L1813.0 1095.4 L1817.0 1096.1 L1821.0 1095.8 L1825.0 1094.2 L1829.0 1094.1 L1833.0 1094.3 L1837.0 1094.1 L1841.0 1095.4 L1845.0 1095.8 L1849.0 1095.9 L1853.0 1094.3 L1857.0 1095.8 L1861.0 1094.4 L1865.0 1094.7 L1869.0 1095.5 L1873.0 1093.8 L1877.0 1093.8 L1881.0 1095.8 L1885.0 1094.4 L1889.0 1094.5 L1893.0 1095.1 L1897.0 1095.4 L1901.0 1093.6 L1905.0 1094.5 L1909.0 1094.7 L1913.0 1094.9 L1917.0 1094.1 L1921.0 1095.1 L1925.0 1096.1 L1929.0 1094.6 L1933.0 1095.0 L1937.0 1093.9 L1941.0 1094.3 L1945.0 1095.3 L1949.0 1093.9 L1953.0 1095.9 L1957.0 1096.0 L1961.0 1093.9 L1965.0 1096.0 L1969.0 1094.6 L1973.0 1095.6 L1977.0 1095.6 L1981.0 1094.4 L1985.0 1095.4 L1989.0 1095.3 L1993.0 1095.7 L1997.0 1094.3 L2001.0 1095.6 L2005.0 1096.1 L2009.0 1095.3 L2013.0 1095.0 L2017.0 1093.9 L2021.0 1094.9 L2025.0 1094.5 L2029.0 1095.5 L2033.0 1095.4 L2037.0 1095.1 L2041.0 1094.1 L2045.0 1095.3 L2049.0 1095.2 L2053.0 1094.1 L2057.0 1095.9 L2061.0 1095.3 L2065.0 1093.9 L2069.0 1096.0 L2073.0 1094.0 L2077.0 1094.5 L2081.0 1095.5 L2085.0 1095.2 L2089.0 1095.0 L2093.0 1095.3 L2097.0 1094.8 L2101.0 1094.4 L2105.0 1094.1 L2109.0 1093.8 L2113.0 1095.5 L2117.0 1095.6 L2121.0 1095.0 L2125.0 1095.5 L2129.0 1094.5 L2133.0 1094.3 L2137.0 1094.6 L2141.0 1095.9 L2145.0 1093.7 L2149.0 1094.9 L2153.0 1094.2 L2157.0 1095.6 L2161.0 1094.5 L2165.0 1094.5 L2169.0 1094.6 L2173.0 1095.0 L2177.0 1095.6" fill="none" stroke="#77AC30" stroke-width="13.7" stroke-linejoin="round" shape-rendering="crispEdges"/>
<rect x="1191.5" y="201.5" width="966" height="430" fill="#fff" stroke="#262626" stroke-width="1" shape-rendering="crispEdges"/>
<path d="M1199 247.2 H1276" stroke="#0072BD" stroke-width="13.2"/>
<path d="M1199 331.9 H1276" stroke="#D95319" stroke-width="13.2"/>
<path d="M1199 416.6 H1276" stroke="#EDB120" stroke-width="13.2"/>
<path d="M1199 501.2 H1276" stroke="#7E2F8E" stroke-width="13.2"/>
<path d="M1199 585.9 H1276" stroke="#77AC30" stroke-width="13.2"/>
<g filter="url(#crisp)">
<text transform="translate(113.60 207.00) scale(1.0000 1.0410)" style="font-family:'Liberation Sans',Arial,sans-serif" font-size="71.30" fill="#262626">12</text>
<text transform="translate(112.60 359.30) scale(1.0000 1.0410)" style="font-family:'Liberation Sans',Arial,sans-serif" font-size="71.30" fill="#262626">10</text>
<text transform="translate(153.60 511.60) scale(1.0000 1.0410)" style="font-family:'Liberation Sans',Arial,sans-serif" font-size="71.30" fill="#262626">8</text>
<text transform="translate(153.60 663.90) scale(1.0000 1.0410)" style="font-family:'Liberation Sans',Arial,sans-serif" font-size="71.30" fill="#262626">6</text>
<text transform="translate(152.60 815.70) scale(1.0000 1.0410)" style="font-family:'Liberation Sans',Arial,sans-serif" font-size="71.30" fill="#262626">4</text>
<text transform="translate(153.60 968.50) scale(1.0000 1.0410)" style="font-family:'Liberation Sans',Arial,sans-serif" font-size="71.30" fill="#262626">2</text>
<text transform="translate(152.60 1120.80) scale(1.0000 1.0410)" style="font-family:'Liberation Sans',Arial,sans-serif" font-size="71.30" fill="#262626">0</text>
<text transform="translate(129.60 1273.10) scale(1.0000 1.0410)" style="font-family:'Liberation Sans',Arial,sans-serif" font-size="71.30" fill="#262626">-2</text>
<text transform="translate(128.60 1424.90) scale(1.0000 1.0410)" style="font-family:'Liberation Sans',Arial,sans-serif" font-size="71.30" fill="#262626">-4</text>
<text transform="translate(129.60 1577.70) scale(1.0000 1.0410)" style="font-family:'Liberation Sans',Arial,sans-serif" font-size="71.30" fill="#262626">-6</text>
<text transform="translate(129.60 1730.00) scale(1.0000 1.0410)" style="font-family:'Liberation Sans',Arial,sans-serif" font-size="71.30" fill="#262626">-8</text>
<text transform="translate(193.50 1791.00) scale(1.0000 1.0410)" style="font-family:'Liberation Sans',Arial,sans-serif" font-size="71.30" fill="#262626">0</text>
<text transform="translate(557.25 1791.00) scale(1.0000 1.0410)" style="font-family:'Liberation Sans',Arial,sans-serif" font-size="71.30" fill="#262626">0.2</text>
<text transform="translate(949.00 1791.00) scale(1.0000 1.0410)" style="font-family:'Liberation Sans',Arial,sans-serif" font-size="71.30" fill="#262626">0.4</text>
<text transform="translate(1342.25 1791.00) scale(1.0000 1.0410)" style="font-family:'Liberation Sans',Arial,sans-serif" font-size="71.30" fill="#262626">0.6</text>
<text transform="translate(1735.00 1791.00) scale(1.0000 1.0410)" style="font-family:'Liberation Sans',Arial,sans-serif" font-size="71.30" fill="#262626">0.8</text>
<text transform="translate(2156.25 1791.00) scale(1.0000 1.0410)" style="font-family:'Liberation Sans',Arial,sans-serif" font-size="71.30" fill="#262626">1</text>
<text transform="translate(213.90 166.80) scale(1.0000 1.0000)" style="font-family:'Noto Sans CJK JP',sans-serif" font-size="55.50" fill="#262626">×</text>
<text transform="translate(268.50 164.50) scale(1.0000 1.0410)" style="font-family:'Liberation Sans',Arial,sans-serif" font-size="71.30" fill="#262626">10</text>
<text transform="translate(347.10 130.50) scale(1.0355 1.0410)" style="font-family:'Liberation Sans',Arial,sans-serif" font-size="55.61" fill="#262626">-14</text>
<text transform="translate(1992.00 1898.90) scale(1.0000 1.0000)" style="font-family:'Noto Sans CJK JP',sans-serif" font-size="55.50" fill="#262626">×</text>
<text transform="translate(2046.00 1896.30) scale(1.0000 1.0410)" style="font-family:'Liberation Sans',Arial,sans-serif" font-size="71.30" fill="#262626">10</text>
<text transform="translate(2124.90 1862.20) scale(1.0636 1.0410)" style="font-family:'Liberation Sans',Arial,sans-serif" font-size="55.61" fill="#262626">-6</text>
<text transform="translate(1133.00 1884.50) scale(1.0000 1.0000)" style="font-family:'Liberation Sans',Arial,sans-serif" font-size="78.40" fill="#262626">t [s]</text>
<text transform="translate(90.40 1157.90) rotate(-90) scale(1.0000 1.0000)" style="font-family:'Liberation Sans',Arial,sans-serif" font-size="78.40" fill="#262626">torque [N m]</text>
<text transform="translate(505.90 112.90) scale(0.9875 1.0410)" style="font-family:'Liberation Sans',Arial,sans-serif" font-size="78.40" font-weight="bold" fill="#000">B</text>
<text transform="translate(619.90 110.60) scale(0.9725 0.9420)" style="font-family:'Liberation Sans',Arial,sans-serif" font-size="78.40" font-weight="bold" fill="#000">=</text>
<text transform="translate(686.70 112.90) scale(0.9893 1.0410)" style="font-family:'Liberation Sans',Arial,sans-serif" font-size="78.40" font-weight="bold" fill="#000">5000</text>
<text transform="translate(881.00 112.90) scale(1.0678 1.0410)" style="font-family:'Liberation Sans',Arial,sans-serif" font-size="78.40" font-weight="bold" fill="#000">mT,</text>
<text transform="translate(1043.90 112.90) scale(0.9370 1.0410)" style="font-family:'Liberation Sans',Arial,sans-serif" font-size="78.40" font-weight="bold" fill="#000">T</text>
<text transform="translate(1112.80 110.60) scale(0.9825 0.9420)" style="font-family:'Liberation Sans',Arial,sans-serif" font-size="78.40" font-weight="bold" fill="#000">=</text>
<text transform="translate(1179.90 112.90) scale(0.9881 1.0410)" style="font-family:'Liberation Sans',Arial,sans-serif" font-size="78.40" font-weight="bold" fill="#000">293.15</text>
<text transform="translate(1441.60 112.90) scale(0.9765 1.0410)" style="font-family:'Liberation Sans',Arial,sans-serif" font-size="78.40" font-weight="bold" fill="#000">K,</text>
<text transform="translate(1538.60 112.90) scale(1.0211 1.0410)" style="font-family:'Liberation Sans',Arial,sans-serif" font-size="78.40" font-weight="bold" fill="#000">h</text>
<text transform="translate(1609.60 110.60) scale(0.9900 0.9420)" style="font-family:'Liberation Sans',Arial,sans-serif" font-size="78.40" font-weight="bold" fill="#000">=</text>
<text transform="translate(1841.10 112.90) scale(1.0324 1.0410)" style="font-family:'Liberation Sans',Arial,sans-serif" font-size="78.40" font-weight="bold" fill="#000">s</text>
<text transform="translate(1676.00 112.90) scale(1.0000 1.0410)" style="font-family:'Liberation Sans',Arial,sans-serif" font-size="78.40" font-weight="bold" fill="#000">10</text>
<text transform="translate(562.10 152.00) scale(0.9633 1.0410)" style="font-family:'Liberation Sans',Arial,sans-serif" font-size="63.50" font-weight="bold" fill="#000">0</text>
<text transform="translate(1764.90 77.00) scale(0.9577 1.0410)" style="font-family:'Liberation Sans',Arial,sans-serif" font-size="63.50" font-weight="bold" fill="#000">-9</text>
<text transform="translate(1281.00 271.90)" font-family="Liberation Sans" font-size="70.80" fill="#000">inertial</text>
<text transform="translate(1281.00 356.58)" font-family="Liberation Sans" font-size="70.80" fill="#000">magnetic</text>
<text transform="translate(1281.00 441.26)" font-family="Liberation Sans" font-size="70.80" fill="#000">viscous quasi-steady</text>
<text transform="translate(1281.00 525.94)" font-family="Liberation Sans" font-size="70.80" fill="#000">viscous history acceleration</text>
<text transform="translate(1281.00 610.62)" font-family="Liberation Sans" font-size="70.80" fill="#000">stochastic Brownian</text>
</g>
</svg></body></html>
